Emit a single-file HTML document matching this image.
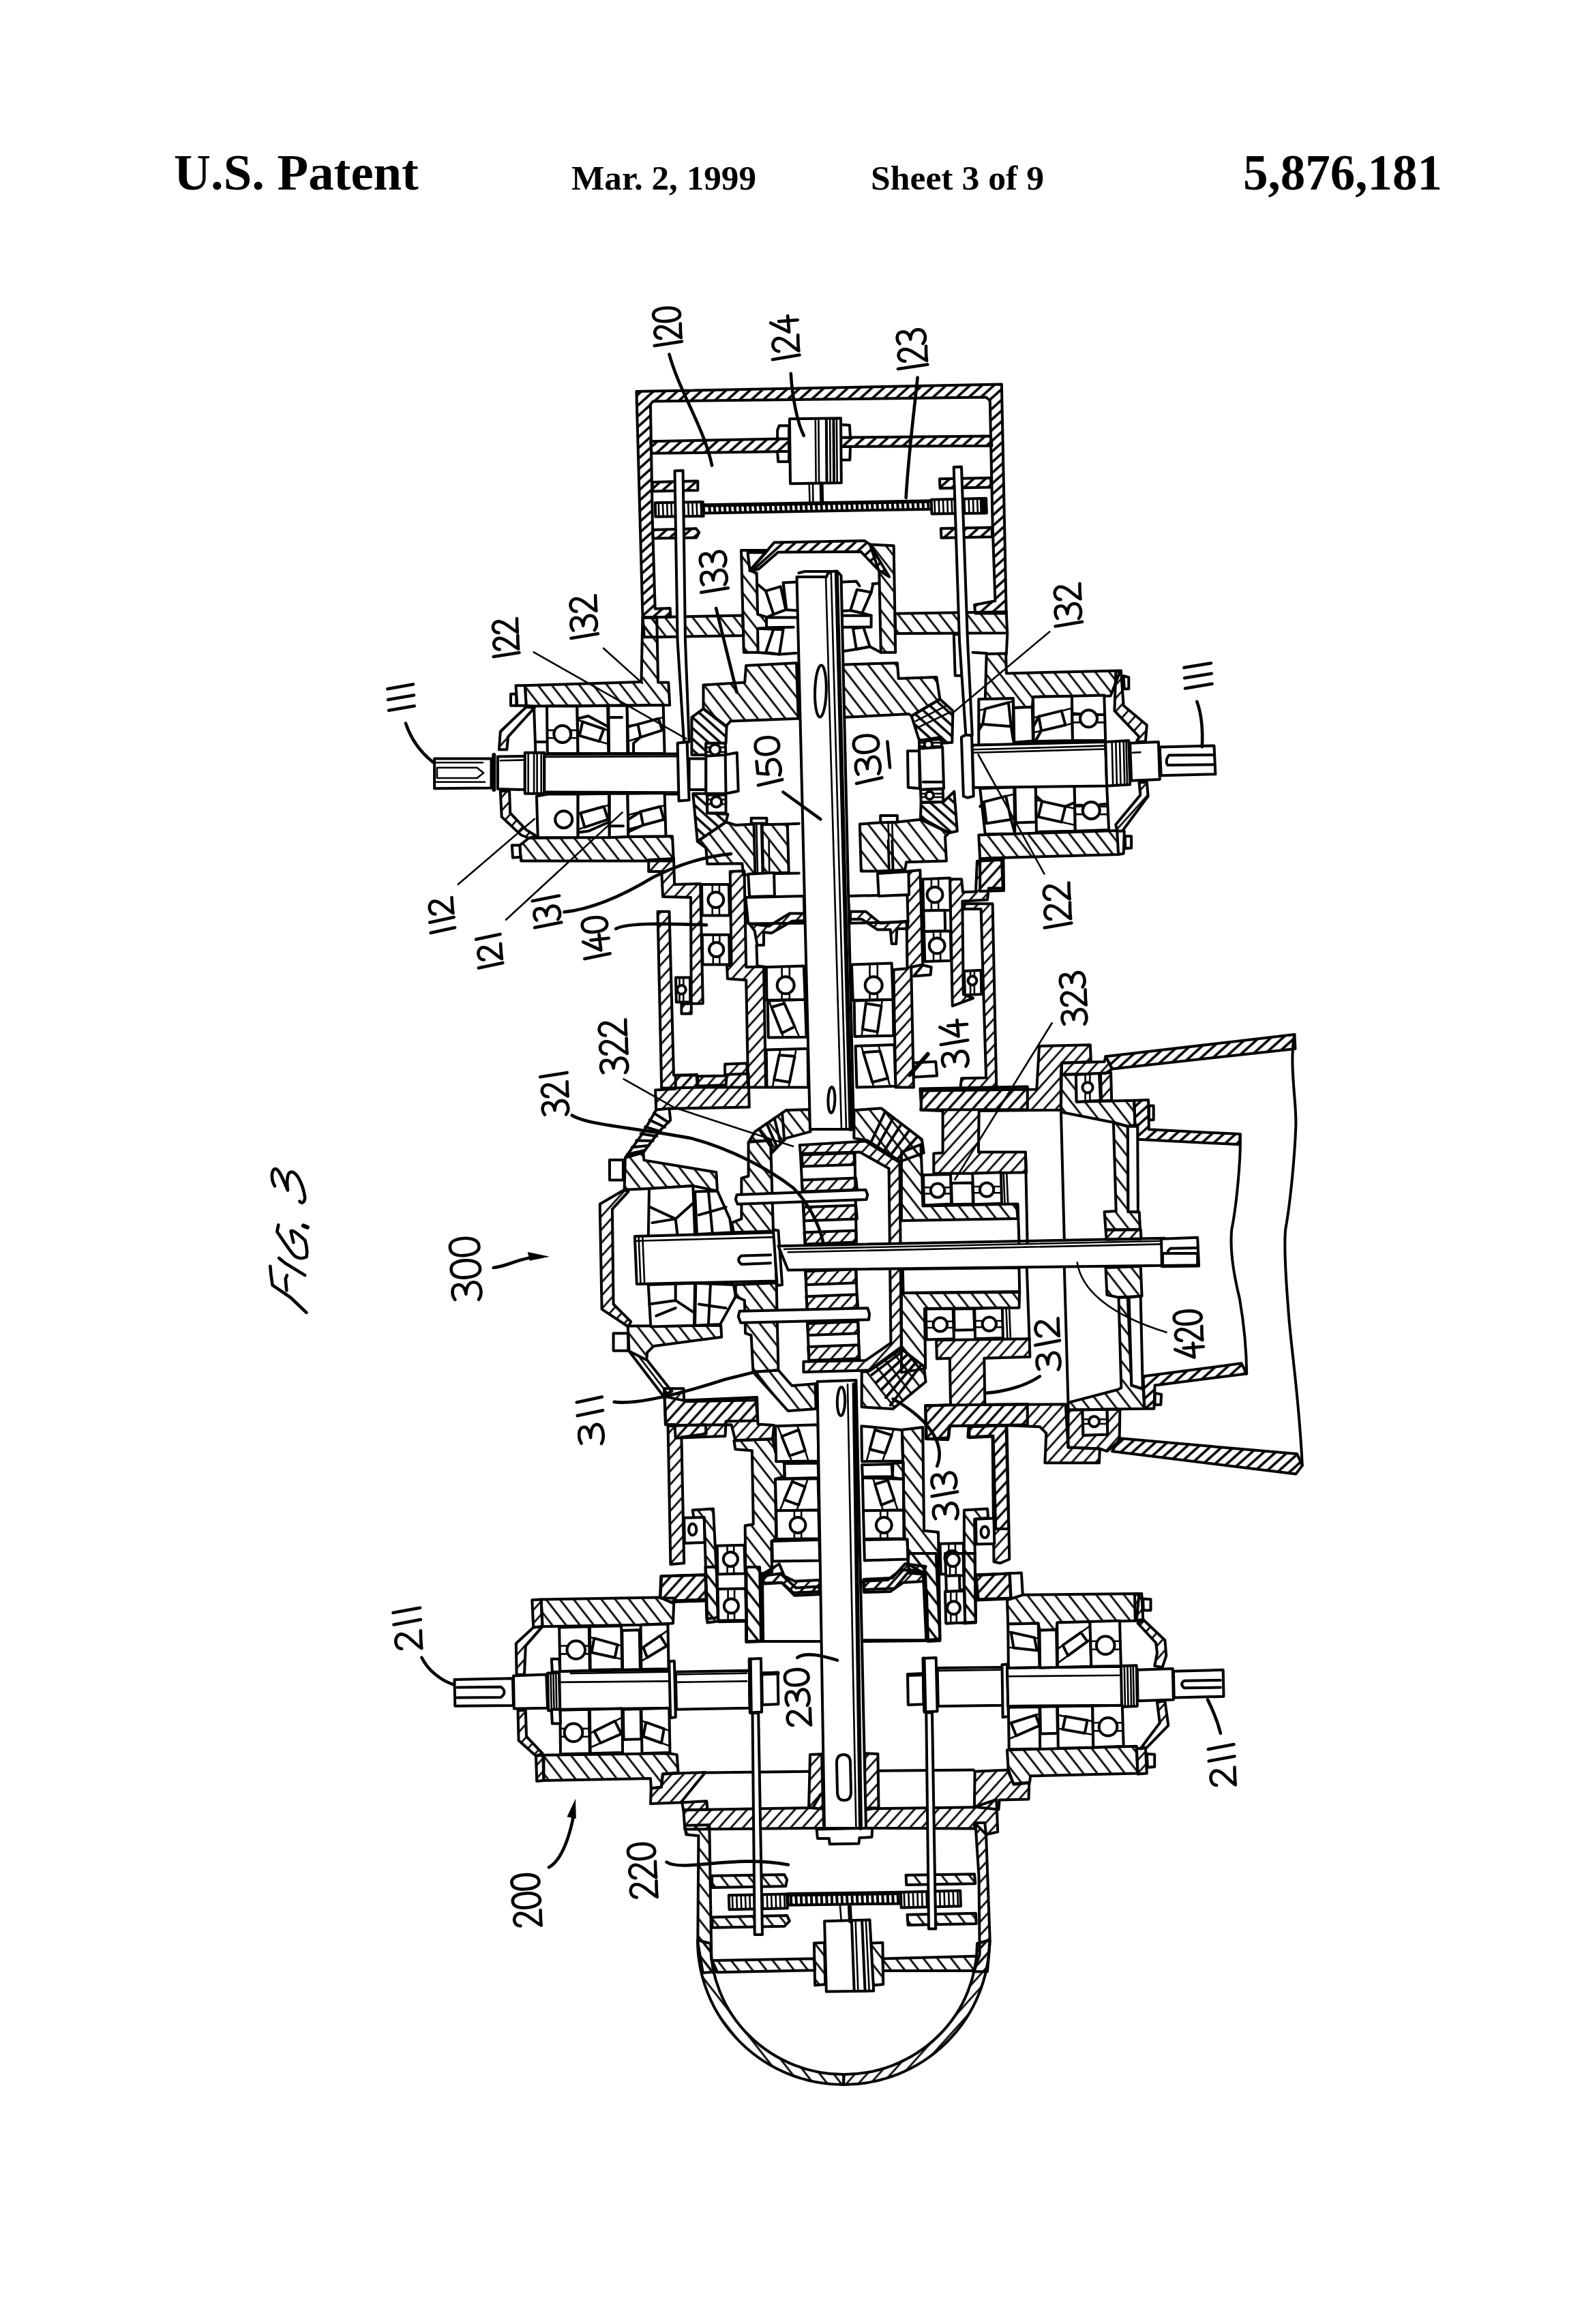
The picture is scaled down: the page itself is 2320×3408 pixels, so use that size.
<!DOCTYPE html>
<html><head><meta charset="utf-8"><title>US 5,876,181 Sheet 3</title>
<style>
html,body{margin:0;padding:0;background:#fff;}
svg{display:block;}
text{font-family:"Liberation Serif",serif;font-weight:bold;fill:#000;}
.l{fill:none;stroke:#000;stroke-width:4;stroke-linecap:round;stroke-linejoin:round;}
.t{fill:none;stroke:#000;stroke-width:2.6;stroke-linecap:round;stroke-linejoin:round;}
.h{fill:none;stroke:#000;stroke-width:6;stroke-linecap:round;stroke-linejoin:round;}
.n{fill:none;stroke:#000;stroke-width:4.6;stroke-linecap:round;stroke-linejoin:round;}
</style></head>
<body>
<svg width="2320" height="3408" viewBox="0 0 2320 3408">
<defs>
<pattern id="ha" width="11.7" height="20" patternUnits="userSpaceOnUse" patternTransform="rotate(48)"><line x1="3" y1="-1" x2="3" y2="21" stroke="#000" stroke-width="3.6"/></pattern>
<pattern id="hb" width="16" height="20" patternUnits="userSpaceOnUse" patternTransform="rotate(-38)"><line x1="3" y1="-1" x2="3" y2="21" stroke="#000" stroke-width="2.8"/></pattern>
<pattern id="hc" width="13" height="20" patternUnits="userSpaceOnUse" patternTransform="rotate(42)"><line x1="3" y1="-1" x2="3" y2="21" stroke="#000" stroke-width="2.7"/></pattern>
<pattern id="hd" width="11.7" height="20" patternUnits="userSpaceOnUse" patternTransform="rotate(-48)"><line x1="3" y1="-1" x2="3" y2="21" stroke="#000" stroke-width="3.6"/></pattern>
</defs>
<rect width="2320" height="3408" fill="#fff"/>
<!--HEADER-->
<text x="255" y="278" font-size="75" textLength="359" lengthAdjust="spacingAndGlyphs">U.S. Patent</text>
<text x="838" y="278" font-size="51.5" textLength="271" lengthAdjust="spacingAndGlyphs">Mar. 2, 1999</text>
<text x="1277" y="278" font-size="51.5" textLength="254" lengthAdjust="spacingAndGlyphs">Sheet 3 of 9</text>
<text x="1823" y="278" font-size="75" textLength="292" lengthAdjust="spacingAndGlyphs">5,876,181</text>
<!-- 01_topbox.txt -->
<polygon class="l" style="fill:url(#ha)" points="942.5,904.9 933.4,574.1 1468.9,563.5 1475.7,899.5 1430.2,899.5 1429.1,887 1459.4,881.3 1455.6,767.6 1451.8,587.4 1446.1,582.5 957.6,588.5 953.9,593.1 956.9,767.6 960.7,892.7 982.7,892 983.4,904.9"/>
<polygon class="l" style="fill:url(#ha)" points="954.2,647.3 1157.1,643.2 1157.1,662.1 955.4,664.8"/>
<polygon class="l" style="fill:url(#ha)" points="1233,641.6 1453,639.4 1454.5,653.8 1233,654.9"/>
<polygon class="l" style="fill:#fff" points="1142.7,624.2 1157.1,624.2 1157.1,643.2 1140.1,643.5 1140.1,631"/>
<polygon class="l" style="fill:#fff" points="1140.1,662.1 1157.1,662.1 1157.1,676.9 1141.2,676.9"/>
<polygon class="l" style="fill:#fff" points="1233,622.7 1245.9,623.4 1247,641.6 1233,641.6"/>
<polygon class="l" style="fill:#fff" points="1233,654.9 1247,654.9 1246.3,674.6 1233,674.6"/>
<polygon class="l" style="fill:#fff" points="1157.9,614.3 1233,613.2 1233.8,708 1159,709.2"/>
<polyline class="t" points="1195.8,614.3 1196.6,708"/>
<polyline class="t" points="1200.4,614.3 1201.1,708"/>
<polyline class="l" points="1211.8,614.3 1212.5,708"/>
<polyline class="t" points="1217.1,614.3 1217.8,708"/>
<polyline class="l" points="1222.4,614.3 1223.1,708"/>
<polyline class="t" points="1226.9,614.3 1227.7,708"/>
<polyline class="t" points="1186.7,709.2 1187.5,735.3"/>
<polyline class="t" points="1192,709.2 1192.4,735.3"/>
<polyline class="h" points="1204.6,709.2 1205.3,737.2"/>
<polygon class="l" style="fill:#fff" points="960.7,737.2 1030.8,736.1 1031.6,756.9 961.4,757.7"/>
<path class="t" d="M965.7,737.2L966.4,757.7M971.9,737.1L972.6,757.6M978.1,737L978.9,757.5M984.3,736.9L985.1,757.5M990.5,736.8L991.3,757.4M996.7,736.6L997.5,757.3M1002.9,736.5L1003.7,757.3M1009.1,736.4L1009.9,757.2M1015.3,736.3L1016.1,757.1M1021.5,736.2L1022.3,757M1027.7,736.1L1028.5,757"/>
<polygon class="l" style="fill:#fff" points="1031.6,740.3 1365.7,734.2 1366.5,746.7 1032.4,752.4"/>
<path class="l" d="M1040.3,740.9L1041,751.6M1047.7,740.8L1048.5,751.4M1055.2,740.7L1055.9,751.3M1062.6,740.5L1063.4,751.2M1070.1,740.4L1070.8,751M1077.5,740.3L1078.3,750.9M1085,740.1L1085.8,750.8M1092.5,740L1093.2,750.7M1099.9,739.8L1100.7,750.5M1107.4,739.7L1108.1,750.4M1114.8,739.6L1115.6,750.3M1122.3,739.4L1123,750.1M1129.7,739.3L1130.5,750M1137.2,739.1L1138,749.9M1144.6,739L1145.4,749.8M1152.1,738.9L1152.9,749.6M1159.6,738.7L1160.3,749.5M1167,738.6L1167.8,749.4M1174.5,738.5L1175.2,749.2M1181.9,738.3L1182.7,749.1M1189.4,738.2L1190.1,749M1196.8,738L1197.6,748.9M1204.3,737.9L1205.1,748.7M1211.8,737.8L1212.5,748.6M1219.2,737.6L1220,748.5M1226.7,737.5L1227.4,748.3M1234.1,737.4L1234.9,748.2M1241.6,737.2L1242.3,748.1M1249,737.1L1249.8,747.9M1256.5,736.9L1257.2,747.8M1263.9,736.8L1264.7,747.7M1271.4,736.7L1272.2,747.6M1278.9,736.5L1279.6,747.4M1286.3,736.4L1287.1,747.3M1293.8,736.3L1294.5,747.2M1301.2,736.1L1302,747M1308.7,736L1309.4,746.9M1316.1,735.8L1316.9,746.8M1323.6,735.7L1324.4,746.7M1331,735.6L1331.8,746.5M1338.5,735.4L1339.3,746.4M1346,735.3L1346.7,746.3M1353.4,735.1L1354.2,746.1M1360.9,735L1361.6,746"/>
<polyline class="l" points="1033.5,741.8 1365,735.7"/>
<polygon class="l" style="fill:#fff" points="1365.7,732.7 1446.1,730.8 1446.9,752.4 1366.5,753.5"/>
<path class="t" d="M1370.4,732.6L1371.2,753.5M1376.7,732.4L1377.4,753.4M1382.9,732.2L1383.7,753.3M1389.2,732.1L1390,753.2M1395.5,731.9L1396.3,753.1M1401.8,731.7L1402.5,753M1408,731.5L1408.8,752.9M1414.3,731.4L1415.1,752.8M1420.6,731.2L1421.4,752.6M1426.9,731L1427.6,752.5M1433.1,730.9L1433.9,752.4"/>
<polygon fill="#000" stroke="none" points="1436.7,730.8 1446.1,730.8 1446.9,752.4 1437.4,752.4"/>
<polygon class="l" style="fill:url(#ha)" points="956.9,706.9 1023.3,705.4 1023.3,719 956.9,720.5"/>
<polygon class="l" style="fill:url(#ha)" points="956.9,777 1020.6,775.1 1025.2,780.8 1021.4,788.4 957.6,789.6"/>
<polygon class="l" style="fill:url(#ha)" points="1377.9,702.3 1453,700.8 1453.7,714.5 1378.6,716"/>
<polygon class="l" style="fill:url(#ha)" points="1379.8,775.1 1454.5,773.6 1455.2,787.3 1380.5,788.8"/>
<!-- 02_cup.txt -->
<polygon class="l" style="fill:url(#hb)" points="942.5,905.5 1088.9,902.5 1090.4,932.1 960.7,934.3 944.8,934.3"/>
<polygon class="l" style="fill:url(#hb)" points="1312.6,899.8 1475.7,897.2 1477.2,928.3 1313.4,929"/>
<polygon class="l" style="fill:url(#hb)" points="1087,807 1125.9,807 1099.7,836.8 1109.7,840.2 1111.1,900.8 1124,905 1124,920.8 1111.1,921.7 1111.6,956.8 1090.8,956.8"/>
<polygon class="l" style="fill:#fff" points="1096.5,810.2 1123,810.2 1099.7,836.4"/>
<polygon class="l" style="fill:url(#ha)" points="1099.7,836.8 1135.3,795.6 1268.1,793.1 1275.7,798.4 1304.1,845.9 1288.9,836.4 1262.4,808.9 1141,809.8 1112.6,834.5"/>
<polygon class="l" style="fill:url(#hb)" points="1275.7,798.4 1310.7,800.3 1313.2,956.8 1291.8,956.8 1289.3,838.3"/>
<polyline class="t" points="1275.7,798.4 1304.1,845.9"/>
<polyline class="l" points="1171.4,840.2 1180.8,837.9 1219.7,837.9"/>
<polyline class="l" points="1148.6,854.4 1167.6,853.4"/>
<polyline class="l" points="1234.9,853.4 1255.8,852.5 1260.5,859.1"/>
<polygon class="l" style="fill:#fff" points="1123,866.7 1144.8,860.1 1152.4,894.2 1134.4,900.8"/>
<polygon class="l" style="fill:#fff" points="1256.7,864.8 1277.6,868.6 1264.3,899 1247.2,895.2"/>
<polyline class="l" points="1111.6,857.2 1123,866.7"/>
<polyline class="l" points="1134.4,900.8 1124.9,905"/>
<polyline class="l" points="1148.6,854.4 1153.4,894.2 1168.5,895.2"/>
<polyline class="l" points="1279.5,856.3 1289.3,855.3"/>
<polyline class="l" points="1277.6,868.6 1280.4,856.3"/>
<polyline class="l" points="1264.3,899 1277.6,902.7"/>
<polyline class="l" points="1247.2,895.2 1234.9,896.1"/>
<polyline class="l" points="1124,905.6 1168.5,905.6"/>
<polyline class="l" points="1124,920.2 1163.8,919.8"/>
<polyline class="l" points="1236.8,902.7 1277.6,902.7 1277.6,919.4 1236.8,919.8"/>
<polygon class="l" style="fill:#fff" points="1134.4,922.7 1148.6,923.2 1142.9,959.6 1123,956.8"/>
<polygon class="l" style="fill:#fff" points="1251,921.7 1266.2,919.8 1275.7,948.3 1255.8,952"/>
<polyline class="l" points="1111.6,956.8 1142.9,959.6 1167.6,957.7"/>
<polyline class="l" points="1236.8,954.9 1255.8,952 1275.7,948.3 1291.8,956.8"/>
<polyline class="l" points="1112.6,921.7 1134.4,922.7"/>
<!-- 03_left111.txt -->
<polygon class="l" style="fill:url(#hb)" points="942.4,905.9 963.2,905.9 965.1,1000.7 980.3,1000.7 982.2,1034.1 783.1,1035.6 771.7,1034.8 769.8,1005.2 940.5,999.9"/>
<polygon class="l" style="fill:#fff" points="749,1017.7 757.3,1017.7 757.3,1034.8 749,1034.8"/>
<polygon class="l" style="fill:#fff" points="756.5,1005.2 769.8,1005.2 771.7,1034.8 758.4,1034.8"/>
<polygon class="l" style="fill:url(#hc)" points="771.7,1036.7 733.8,1072.7 731.9,1099.3 743.3,1099.3 745.2,1080.3 783.8,1037.9"/>
<polygon class="l" style="fill:url(#hb)" points="775.5,1229 986,1226.3 987.9,1262.4 764.1,1262.4 762.2,1239.6"/>
<polygon class="l" style="fill:#fff" points="750.8,1239.6 762.2,1239.6 763.4,1256.7 752,1257.8"/>
<polygon class="l" style="fill:url(#hc)" points="733.8,1160 735.7,1197.9 764.1,1224.5 775.5,1229 786.9,1226.3 771.7,1216.9 748.2,1192.2 747.1,1160"/>
<polygon class="l" style="fill:#fff" points="637.1,1112.6 720.5,1112.6 720.5,1155.4 637.1,1156.2"/>
<polyline class="t" points="637.1,1118.3 708,1118.3"/>
<polyline class="t" points="640.9,1125.8 699.6,1125.8 709.1,1133.4 699.6,1141 640.9,1141 640.9,1125.8"/>
<polyline class="t" points="637.1,1146.7 711,1146.7"/>
<polyline class="h" points="724.3,1106.9 724.3,1158.1"/>
<polygon class="l" style="fill:#fff" points="730,1109.5 769.8,1108.8 769.8,1158.1 730,1156.9"/>
<polyline class="t" points="733.8,1115.2 767.9,1114.5"/>
<polygon class="l" style="fill:#fff" points="769.8,1103.8 798.3,1103.8 798.3,1163.8 769.8,1163.8"/>
<polyline class="t" points="774.7,1103.8 774.7,1163.8"/>
<polyline class="t" points="783.1,1103.8 783.1,1163.8"/>
<polyline class="t" points="787.6,1103.8 787.6,1163.8"/>
<polyline class="t" points="793.7,1103.8 793.7,1163.8"/>
<polygon class="l" style="fill:#fff" points="798.3,1106.1 995.5,1105.4 996.2,1164.5 798.3,1163.8"/>
<polyline class="t" points="798.3,1109.9 995.5,1109.2"/>
<polyline class="t" points="798.3,1160.7 995.5,1161.5"/>
<polygon class="l" style="fill:#fff" points="802,1035.6 846.4,1035.6 847.6,1105 802.8,1105"/>
<path class="t" d="M802.4,1070.9L813.5,1070.9M836.1,1070.9L847,1070.9M802.6,1082.2L813.5,1082.2M836.1,1082.2L847.2,1082.2"/>
<circle class="l" style="fill:#fff" cx="824.8" cy="1076.5" r="12.5"/>
<polygon class="l" style="fill:#fff" points="846.4,1035.6 891.2,1034.8 892.3,1105 847.6,1105"/>
<polygon class="l" style="fill:#fff" points="854.4,1058.3 885.5,1069 878.7,1087.2 849.8,1078.8"/>
<path class="t" d="M846.8,1055.7L854.4,1058.3M885.5,1069L891.8,1071.1M892.1,1091L878.7,1087.2M849.8,1078.8L847.1,1078"/>
<polyline class="l" points="847.6,1053.8 862.7,1050 891.2,1065.2"/>
<polygon class="l" style="fill:#fff" points="892.3,1034.8 919.6,1034.8 920.4,1105 893.1,1105"/>
<polyline class="l" points="895,1051.9 912,1051.9"/>
<polygon class="l" style="fill:#fff" points="919.6,1034.8 972.7,1034.1 974.6,1105 921.5,1105"/>
<polygon class="l" style="fill:#fff" points="935.5,1062.1 965.9,1053.8 971.2,1070.8 939.3,1081.1"/>
<path class="t" d="M920.5,1066.3L935.5,1062.1M965.9,1053.8L973.2,1051.8M973.7,1070.1L971.2,1070.8M939.3,1081.1L921,1087"/>
<polyline class="l" points="921.5,1065.2 935.5,1062.1"/>
<polyline class="l" points="939.3,1081.1 929.1,1089.8 929.1,1105"/>
<polyline class="l" points="783.1,1037.9 785.4,1103.8"/>
<polyline class="l" points="786.9,1087.9 802,1087.9"/>
<polygon class="l" style="fill:#fff" points="803.9,1164.5 847.6,1164.5 847.6,1228.2 788.8,1228.2 786.9,1167.6"/>
<circle class="l" style="fill:#fff" cx="826.7" cy="1201.7" r="12.5"/>
<polygon class="l" style="fill:#fff" points="847.6,1164.5 893.1,1163.8 893.8,1228.2 847.6,1228.2"/>
<polygon class="l" style="fill:#fff" points="851.4,1192.2 885.5,1182.7 891.6,1201.7 857.4,1213.1"/>
<path class="t" d="M847.6,1193.3L851.4,1192.2M885.5,1182.7L893.3,1180.6M893.5,1201L891.6,1201.7M857.4,1213.1L847.6,1216.4"/>
<polyline class="l" points="847.6,1220.7 862.7,1218.8 893.1,1205.5"/>
<polygon class="l" style="fill:#fff" points="893.8,1163.8 920.4,1163.8 921.5,1227.1 893.8,1228.2"/>
<polyline class="l" points="895,1211.2 913.9,1211.2"/>
<polygon class="l" style="fill:#fff" points="920.4,1163.8 974.6,1163 976.5,1226.3 921.5,1227.1"/>
<polygon class="l" style="fill:#fff" points="939.3,1190.3 968.2,1182.7 973.5,1201.7 943.1,1210"/>
<path class="t" d="M920.9,1195.2L939.3,1190.3M968.2,1182.7L975.1,1180.9M975.8,1201.1L973.5,1201.7M943.1,1210L921.3,1216"/>
<polyline class="l" points="921.5,1201.7 939.3,1190.3"/>
<polyline class="l" points="943.1,1210 923.4,1218.8"/>
<polygon class="l" style="fill:#fff" points="993.6,1089.8 1007.6,1087.9 1010.6,1173.2 995.5,1174.4"/>
<polygon class="l" style="fill:#fff" points="1010.6,1112.6 1035.3,1112.6 1035.3,1158.1 1010.6,1158.1"/>
<polygon class="l" style="fill:url(#hd)" points="1014.4,1051.9 1031.5,1039.4 1065.6,1065.2 1064.5,1089.8 1035.3,1091.7 1035.3,1106.9 1014.4,1106.9"/>
<polygon class="l" style="fill:url(#hd)" points="1016.3,1163.8 1037.2,1163.8 1037.2,1192.2 1067.5,1194.1 1064.5,1205.5 1022.8,1233.9"/>
<polygon class="l" style="fill:#fff" points="1035.3,1089.8 1063.7,1089.8 1064.5,1108.8 1035.3,1108.8"/>
<path class="t" d="M1035.3,1095.9L1041.7,1095.9M1055.4,1095.9L1064,1095.9M1035.3,1102.7L1041.7,1102.7M1055.4,1102.7L1064.3,1102.7"/>
<circle class="l" style="fill:#fff" cx="1048.6" cy="1099.3" r="7.6"/>
<polygon class="l" style="fill:#fff" points="1037.2,1165.7 1064.5,1165.7 1064.5,1192.2 1037.2,1192.2"/>
<path class="t" d="M1037.2,1172.5L1043.6,1172.5M1057.3,1172.5L1064.5,1172.5M1037.2,1179.3L1043.6,1179.3M1057.3,1179.3L1064.5,1179.3"/>
<circle class="l" style="fill:#fff" cx="1050.5" cy="1175.9" r="7.6"/>
<polygon class="l" style="fill:#fff" points="1035.3,1108.8 1063.7,1106.9 1080.8,1103.8 1082.7,1160 1064.5,1163.8 1035.3,1163.8"/>
<polyline class="l" points="1063.7,1106.9 1064.5,1163.8"/>
<polygon class="l" style="fill:url(#hb)" points="1031.5,1004.5 1092.2,1000.7 1094.1,976 1168,972.2 1170.7,1053.8 1071.3,1057.6 1064.5,1065.2 1031.5,1039.4"/>
<polygon class="l" style="fill:url(#hb)" points="1022.8,1233.9 1064.5,1205.5 1078.9,1210 1105.5,1208.5 1107.4,1281.3 1090.3,1283.2 1088.4,1266.2 1037.2,1266.9 1035.3,1243.4"/>
<polygon class="l" style="fill:url(#hb)" points="1117.6,1209.3 1154.8,1208.5 1156.7,1279.4 1119.1,1281.3"/>
<polygon class="l" style="fill:#fff" points="1101.7,1199.8 1124.4,1199.8 1124.4,1207.4 1101.7,1207.4"/>
<polyline class="t" points="1109.3,1207.4 1111.5,1302.2"/>
<polyline class="t" points="1116.1,1207.4 1118.4,1302.2"/>
<polyline class="l" points="1119.1,1281.3 1171.8,1280.6"/>
<polyline class="l" points="1154.8,1208.5 1171.8,1207.8"/>
<!-- 04_right111.txt -->
<polygon class="l" style="fill:url(#hb)" points="1224.8,974.9 1315.9,972.2 1317.7,995 1373.5,993.1 1378.4,1025.3 1336.7,1050 1332.9,1047 1224.8,1052.6"/>
<polygon class="l" style="fill:url(#hd)" points="1336.7,1050 1378.4,1025.3 1397.4,1042.4 1396.3,1088.7 1382.2,1089.8 1380.3,1081.1 1348.1,1086"/>
<polyline class="t" points="1342.4,1057.6 1387.9,1034.8"/>
<polyline class="t" points="1345.4,1067.1 1393.6,1044.3"/>
<polygon class="l" style="fill:#fff" points="1348.1,1086 1380.3,1084.1 1381.1,1096.3 1348.1,1097.8"/>
<path class="t" d="M1348.1,1089.1L1356.2,1089.1M1366.5,1089.1L1380.6,1089.1M1348.1,1094.3L1356.2,1094.3M1366.5,1094.3L1381,1094.3"/>
<circle class="l" style="fill:#fff" cx="1361.4" cy="1091.7" r="5.7"/>
<polygon class="l" style="fill:#fff" points="1331,1101.2 1348.1,1101.2 1348.8,1156.2 1331.8,1154.7"/>
<polygon class="l" style="fill:#fff" points="1348.1,1097.8 1382.2,1095.5 1384.1,1156.2 1350,1158.1"/>
<polyline class="l" points="1353.8,1146.7 1382.2,1146.7"/>
<polygon class="l" style="fill:#fff" points="1350,1158.1 1382.6,1156.9 1383.4,1175.9 1350.7,1176.7"/>
<path class="t" d="M1350.2,1163.9L1358.1,1163.9M1368.4,1163.9L1382.9,1163.9M1350.4,1169L1358.1,1169M1368.4,1169L1383.1,1169"/>
<circle class="l" style="fill:#fff" cx="1363.3" cy="1166.4" r="5.7"/>
<polygon class="l" style="fill:url(#hd)" points="1350.7,1176.7 1383.4,1175.9 1399.3,1160.7 1403.8,1218.8 1391.7,1221.4 1350,1198.7"/>
<polygon class="l" style="fill:url(#hb)" points="1260.9,1208.5 1291.2,1206.2 1315.9,1205.5 1350,1201.7 1391.7,1221.4 1386,1227.1 1387.9,1262.4 1329.1,1264.3 1327.2,1275.7 1289.3,1277.5 1262.8,1277.5"/>
<polygon class="l" style="fill:#fff" points="1291.2,1196 1315.9,1196 1315.9,1205.5 1291.2,1206.2"/>
<polyline class="t" points="1302.6,1206.2 1305.2,1311.7"/>
<polyline class="t" points="1308.3,1206.2 1311.3,1311.7"/>
<polygon class="l" style="fill:url(#hb)" points="1446.7,959 1475.1,958.2 1475.9,987.4 1642.8,983.6 1628.7,1020.4 1515,1021.9 1513.8,1036.7 1486.5,1037.9 1485.8,1024.2 1444.8,1025.3"/>
<polygon class="l" style="fill:url(#hb)" points="1435.3,1224.5 1638.2,1218 1640.1,1252.9 1471.4,1257.8 1437.2,1259.3"/>
<polygon class="l" style="fill:url(#hc)" points="1437.2,1259.3 1471.4,1257.8 1472.1,1306 1437.2,1307.1"/>
<polygon class="l" style="fill:#fff" points="1435.3,1025.3 1485.8,1024.2 1486.5,1091.7 1435.3,1092.5"/>
<polygon class="l" style="fill:#fff" points="1444.8,1039.4 1478.9,1030.3 1482.7,1065.2 1441,1062.1"/>
<path class="t" d="M1435.3,1041.9L1444.8,1039.4M1478.9,1030.3L1485.8,1028.4M1486.2,1065.4L1482.7,1065.2M1441,1062.1L1435.3,1061.7"/>
<polyline class="l" points="1441,1062.1 1435.3,1070.8"/>
<polyline class="l" points="1482.7,1065.2 1485.8,1084.1"/>
<polygon class="l" style="fill:#fff" points="1486.5,1037.9 1513.8,1036.7 1515,1086.4 1487.3,1088.7"/>
<polygon class="l" style="fill:#fff" points="1515,1021.9 1571.9,1020.8 1573,1086 1515.7,1087.2"/>
<polygon class="l" style="fill:#fff" points="1523.3,1050.7 1556.7,1042.4 1562.4,1063.3 1527.1,1071.6"/>
<path class="t" d="M1515.3,1052.7L1523.3,1050.7M1556.7,1042.4L1572.2,1038.5M1572.6,1060.9L1562.4,1063.3M1527.1,1071.6L1515.6,1074.3"/>
<polyline class="l" points="1515.7,1065.2 1523.3,1050.7"/>
<polyline class="l" points="1527.1,1071.6 1518.8,1086"/>
<polygon class="l" style="fill:#fff" points="1571.9,1020.8 1619.3,1019.6 1621.2,1086 1573,1086"/>
<path class="t" d="M1572.3,1048.1L1585.2,1048.1M1607.8,1048.1L1620.1,1048.1M1572.5,1059.4L1585.2,1059.4M1607.8,1059.4L1620.4,1059.4"/>
<circle class="l" style="fill:#fff" cx="1596.5" cy="1053.8" r="12.5"/>
<polyline class="l" points="1573,1046.2 1583.2,1047"/>
<polyline class="l" points="1609.8,1048.1 1620,1048.1"/>
<polygon class="l" style="fill:#fff" points="1437.2,1156.2 1487.3,1154.3 1488.4,1222.6 1444.8,1223.3"/>
<polygon class="l" style="fill:#fff" points="1442.9,1175.9 1475.1,1167.6 1482.7,1201.7 1446.7,1207.4"/>
<path class="t" d="M1439.5,1176.8L1442.9,1175.9M1475.1,1167.6L1487.5,1164.4M1488.1,1200.9L1482.7,1201.7M1446.7,1207.4L1443.1,1208"/>
<polyline class="l" points="1437.2,1182.7 1442.9,1175.9"/>
<polyline class="l" points="1482.7,1201.7 1488.4,1222.6"/>
<polygon class="l" style="fill:#fff" points="1488.4,1154.3 1518.8,1153.1 1519.9,1205.5 1489.6,1206.6"/>
<polygon class="l" style="fill:#fff" points="1518.8,1153.1 1575.7,1152.4 1576.8,1218.8 1519.9,1219.9"/>
<polygon class="l" style="fill:#fff" points="1528.2,1175.1 1562.4,1182.7 1556.7,1205.5 1522.6,1197.9"/>
<path class="t" d="M1519.1,1173.1L1528.2,1175.1M1562.4,1182.7L1576.2,1185.8M1576.6,1209.9L1556.7,1205.5M1522.6,1197.9L1519.5,1197.2"/>
<polyline class="l" points="1519.9,1167.6 1528.2,1175.1"/>
<polyline class="l" points="1562.4,1182.7 1575.7,1177"/>
<polygon class="l" style="fill:#fff" points="1575.7,1152.4 1623.1,1151.6 1626.1,1216.9 1576.8,1218.8"/>
<path class="t" d="M1576.2,1182.8L1589,1182.8M1611.6,1182.8L1624.5,1182.8M1576.4,1194.1L1589,1194.1M1611.6,1194.1L1625,1194.1"/>
<circle class="l" style="fill:#fff" cx="1600.3" cy="1188.4" r="12.5"/>
<polyline class="l" points="1576.8,1180.8 1587,1180.8"/>
<polyline class="l" points="1613.6,1179.7 1623.8,1178.9"/>
<polygon class="l" style="fill:#fff" points="1409.9,1081.1 1418.3,1076.5 1425.1,1079.6 1427.7,1167.6 1419,1169.8 1412.9,1167.6"/>
<polygon class="l" style="fill:#fff" points="1425.8,1092.8 1621.2,1087.9 1623.1,1152.4 1427.7,1155"/>
<polyline class="t" points="1425.8,1099.3 1621.2,1093.6"/>
<polyline class="t" points="1427.7,1103.8 1619.3,1098.5"/>
<polygon class="l" style="fill:#fff" points="1621.2,1087.9 1655.3,1086 1657.2,1150.5 1623.1,1152.4"/>
<polyline class="t" points="1630.6,1087.9 1632.2,1151.6"/>
<polyline class="t" points="1636.3,1087.5 1637.9,1151.6"/>
<polyline class="t" points="1642,1087.2 1643.5,1151.3"/>
<polyline class="t" points="1647.7,1086.8 1649.2,1150.9"/>
<polyline class="t" points="1651.5,1086.4 1653,1150.9"/>
<polygon class="l" style="fill:#fff" points="1657.2,1089.8 1698.9,1087.9 1700.8,1142.9 1659.1,1144.8"/>
<polyline class="t" points="1661,1103.8 1672.4,1103.1"/>
<polygon class="l" style="fill:#fff" points="1700.8,1095.5 1780.5,1093.6 1782.4,1135.3 1702.7,1137.2"/>
<path class="l" d="M1778.6,1106.9 L1714.1,1107.6 Q1708.4,1115.2 1712.2,1122 L1778.6,1121.3"/>
<polygon class="l" style="fill:url(#hc)" points="1636.3,985.5 1643.9,983.6 1647.7,1034.8 1681.8,1063.3 1679.9,1087.2 1666.7,1087.9 1670.5,1080.3 1634.4,1042.4"/>
<polygon class="l" style="fill:#fff" points="1647.7,991.2 1655.3,993.1 1655.3,1010.2 1648.8,1010.2"/>
<polygon class="l" style="fill:url(#hc)" points="1670.5,1147.8 1681.8,1146.7 1683.7,1167.6 1645.8,1218.8 1638.2,1218.8 1636.3,1209.3 1672.4,1165.7"/>
<polygon class="l" style="fill:#fff" points="1649.6,1226.3 1659.1,1226.3 1659.1,1243.4 1650.4,1244.2"/>
<polyline class="l" points="1640.1,1252.9 1647.7,1251.8 1648.8,1218.8"/>
<polyline class="l" points="1477.3,929 1475.8,959.4"/>
<polyline class="l" points="1426.5,956.7 1447,957.9"/>
<polygon class="l" style="fill:#fff" points="1398.8,930.2 1408.3,930.2 1410.2,990.8 1400.7,990.8"/>
<!-- 05_neck_upper.txt -->
<polygon class="l" style="fill:url(#hc)" points="964.5,1336.7 981.5,1336.7 988,1576.8 1021.4,1576.8 1023.3,1594.6 970.2,1595.8"/>
<polygon class="l" style="fill:url(#hc)" points="1413.9,1325.3 1455.6,1325.3 1461.3,1596.5 1408.2,1596.5 1410.1,1581.3 1446.1,1580.6 1438.6,1332.9 1413.9,1332.9"/>
<polygon class="l" style="fill:url(#hc)" points="951.2,1260.9 988,1259 989.1,1296.9 1027.1,1296.1 1030.8,1471.4 999.4,1472.1 999.4,1486.5 1013.8,1486.5 1013,1315.9 972.1,1315.1 970.2,1277.9 951.2,1277.9"/>
<polygon class="l" style="fill:url(#hc)" points="1393,1289.3 1410.1,1289.3 1412,1308.3 1431,1307.5 1432.9,1262.8 1468.9,1260.9 1470.8,1302.6 1449.9,1302.6 1448,1319.6 1411.3,1321.5 1412.8,1458.1 1427.2,1463.8 1396.8,1475.1"/>
<polygon class="l" style="fill:url(#hc)" points="1063.1,1560.5 1095.3,1559.3 1097.2,1594.6 1023.3,1594.6 1023.3,1578.3 1063.1,1577.5"/>
<polygon class="l" style="fill:url(#hc)" points="1070.7,1277.9 1091.5,1277.2 1094.2,1418.3 1120,1417.5 1123,1594.6 1097.2,1594.6 1094.2,1437.2 1066.9,1435.3 1066.1,1416.4 1072.6,1415.2"/>
<polygon class="l" style="fill:url(#hc)" points="1328.6,1277.9 1349.4,1276 1353.2,1414.5 1336.2,1418.3 1339.9,1594.6 1313.4,1594.6 1310.4,1422 1330.5,1420.2"/>
<polygon class="l" style="fill:#fff" points="1339.9,1431.5 1364.6,1429.6 1365.7,1418.3 1353.2,1415.2"/>
<polygon class="l" style="fill:#fff" points="1339.9,1558.6 1372.2,1556.7 1374.1,1577.5 1339.9,1579.4"/>
<polygon class="l" style="fill:#fff" points="1029,1296.9 1068.8,1296.9 1069.9,1342.4 1029.7,1342.4"/>
<path class="t" d="M1044.7,1296.9L1044.7,1309.4M1044.7,1329.9L1044.7,1342.4M1054.9,1296.9L1054.9,1309.4M1054.9,1329.9L1054.9,1342.4"/>
<circle class="l" style="fill:#fff" cx="1049.8" cy="1319.6" r="11.4"/>
<polygon class="l" style="fill:#fff" points="1029.7,1370.8 1069.2,1370.8 1069.9,1414.5 1030.5,1414.5"/>
<path class="t" d="M1045.8,1370.8L1045.8,1382.9M1045.8,1402L1045.8,1414.5M1055.3,1370.8L1055.3,1382.9M1055.3,1402L1055.3,1414.5"/>
<circle class="l" style="fill:#fff" cx="1050.6" cy="1392.5" r="10.6"/>
<polygon class="l" style="fill:#fff" points="991,1433.4 1011.9,1433.4 1012.3,1469.5 991.8,1469.5"/>
<path class="t" d="M996.5,1433.4L996.5,1445.4M996.5,1457.1L996.5,1469.5M1002.3,1433.4L1002.3,1445.4M1002.3,1457.1L1002.3,1469.5"/>
<circle class="l" style="fill:#fff" cx="999.4" cy="1451.3" r="6.4"/>
<polygon class="l" style="fill:#fff" points="1353.2,1289.3 1393,1287.4 1393.8,1334.8 1354.4,1335.6"/>
<path class="t" d="M1365.9,1288.7L1365.9,1301.8M1365.9,1322.3L1365.9,1335.4M1376.2,1288.2L1376.2,1301.8M1376.2,1322.3L1376.2,1335.2"/>
<circle class="l" style="fill:#fff" cx="1371" cy="1312.1" r="11.4"/>
<polygon class="l" style="fill:#fff" points="1354.4,1335.6 1385.5,1334.8 1386.2,1365.2 1355.1,1365.9"/>
<polygon class="l" style="fill:#fff" points="1355.1,1365.9 1393.8,1365.2 1394.9,1408.8 1356.3,1409.9"/>
<path class="t" d="M1369,1365.6L1369,1376.5M1369,1397L1369,1409.5M1379.2,1365.4L1379.2,1376.5M1379.2,1397L1379.2,1409.2"/>
<circle class="l" style="fill:#fff" cx="1374.1" cy="1386.8" r="11.4"/>
<polygon class="l" style="fill:#fff" points="1413.9,1423.9 1438.6,1422.8 1439.3,1458.1 1415,1459.2"/>
<path class="t" d="M1423.1,1423.5L1423.1,1432.2M1423.1,1443.8L1423.1,1458.8M1428.9,1423.3L1428.9,1432.2M1428.9,1443.8L1428.9,1458.6"/>
<circle class="l" style="fill:#fff" cx="1426" cy="1438" r="6.4"/>
<polygon class="l" style="fill:#fff" points="1093.4,1315.9 1178.8,1314 1179.9,1353.8 1097.2,1354.5"/>
<polygon class="l" style="fill:url(#hc)" points="1099.1,1354.5 1127.6,1358.3 1157.9,1339.4 1179.9,1339.4 1179.9,1350 1161.7,1350.7 1131.4,1368.2 1120,1367.1 1120,1386 1110.5,1386 1106.7,1365.2"/>
<polygon class="l" style="fill:#fff" points="1243.2,1314 1330.5,1312.1 1331.6,1351.9 1247,1353.8"/>
<polygon class="l" style="fill:url(#hc)" points="1247,1336.7 1269.8,1336.7 1290.6,1353.8 1331.6,1350.7 1330.5,1362.1 1315.3,1362.1 1314.2,1384.1 1307.7,1384.1 1305.8,1363.3 1286.9,1363.3 1264.1,1348.1 1247,1348.1"/>
<polyline class="t" points="1118.1,1232.4 1119.2,1312.1"/>
<polyline class="t" points="1127.6,1232.4 1128.7,1312.1"/>
<polyline class="t" points="1302,1232.4 1304.3,1304.5"/>
<polyline class="t" points="1307.7,1232.4 1309.6,1304.5"/>
<polygon class="l" style="fill:#fff" points="1097.2,1281.7 1135.1,1279.8 1135.9,1314 1099.1,1315.1"/>
<polygon class="l" style="fill:#fff" points="1286.9,1281 1332.4,1277.9 1333.1,1312.1 1288.7,1314"/>
<polygon class="l" style="fill:#fff" points="1123.8,1418.3 1178.8,1416.4 1180.7,1465.7 1124.5,1466.8"/>
<path class="t" d="M1146.6,1417.5L1146.6,1433.5M1146.6,1456.1L1146.6,1466.4M1157.8,1417.1L1157.8,1433.5M1157.8,1456.1L1157.8,1466.1"/>
<circle class="l" style="fill:#fff" cx="1152.2" cy="1444.8" r="12.5"/>
<polygon class="l" style="fill:#fff" points="1248.9,1414.5 1307.7,1412.6 1309.6,1465.7 1250.8,1466.8"/>
<path class="t" d="M1275.5,1413.6L1275.5,1433.5M1275.5,1456.1L1275.5,1466.3M1286.8,1413.2L1286.8,1433.5M1286.8,1456.1L1286.8,1466.1"/>
<circle class="l" style="fill:#fff" cx="1281.2" cy="1444.8" r="12.5"/>
<polygon class="l" style="fill:#fff" points="1125.7,1467.6 1180.7,1465.7 1182.6,1520.7 1126.8,1521.4"/>
<polygon class="l" style="fill:#fff" points="1131.4,1477 1150.3,1471.4 1165.5,1505.5 1146.5,1515"/>
<path class="t" d="M1148.3,1466.8L1150.3,1471.4M1165.5,1505.5L1172.3,1520.8M1149,1521.1L1146.5,1515M1131.4,1477L1127.5,1467.5"/>
<polygon class="l" style="fill:#fff" points="1123.8,1539.6 1184.5,1537.7 1185.2,1594.6 1124.5,1594.6"/>
<polygon class="l" style="fill:#fff" points="1142.7,1547.2 1165.5,1549.1 1157.9,1587 1135.1,1583.2"/>
<path class="t" d="M1167.7,1538.2L1165.5,1549.1M1157.9,1587L1156.4,1594.6M1132.8,1594.6L1135.1,1583.2M1142.7,1547.2L1144.5,1539"/>
<polygon class="l" style="fill:#fff" points="1252.7,1467.6 1309.6,1465.7 1310.4,1518.8 1253.5,1519.9"/>
<polygon class="l" style="fill:#fff" points="1269.8,1471.4 1292.5,1475.1 1286.9,1513.1 1264.9,1509.3"/>
<path class="t" d="M1293.9,1466.2L1292.5,1475.1M1286.9,1513.1L1285.9,1519.2M1263.5,1519.7L1264.9,1509.3M1269.8,1471.4L1270.4,1467"/>
<polygon class="l" style="fill:#fff" points="1254.6,1533.9 1311.5,1532 1313.4,1592.7 1256.5,1594.6"/>
<polygon class="l" style="fill:#fff" points="1266,1543.4 1290.6,1541.5 1302,1581.3 1279.3,1587"/>
<path class="t" d="M1288.2,1532.8L1290.6,1541.5M1302,1581.3L1305.4,1593M1281.3,1593.8L1279.3,1587M1266,1543.4L1263,1533.7"/>
<polyline class="l" points="1109.4,1386 1110.5,1416.4 1123.8,1418.3"/>
<polygon class="l" style="fill:url(#hc)" points="1349.4,1596.5 1506.8,1593.5 1506.8,1626.9 1351.3,1627.6"/>
<!-- 06_center_left.txt -->
<polygon class="l" style="fill:url(#hc)" points="961.1,1598.5 990.7,1596.8 990.7,1576.9 1022,1575.8 1023.1,1592.8 1064.6,1591.1 1065.8,1575.8 1097.6,1574.6 1098.8,1623.5 981.6,1625.8 962.2,1627.5"/>
<polygon class="l" style="fill:#fff" points="962.4,1627.4 941.5,1663.4 916.9,1697.6 943.4,1690 966.2,1659.7 983.3,1642.6 981.4,1625.5"/>
<path class="l" d="M959.1,1632.4L980.4,1646M952.6,1642.4L974.8,1652.8M946.1,1652.5L969,1659.5M939.6,1662.5L963.3,1666.3M933.1,1672.5L957.6,1673.1M926.6,1682.6L951.9,1679.8M920.1,1692.6L946.2,1686.6"/>
<polygon class="l" style="fill:url(#hb)" points="916.9,1697.6 943.4,1690 944.4,1701.4 1050.4,1719 1052,1746.4 1016.3,1739 952,1743 915.6,1744.7"/>
<polygon class="l" style="fill:url(#hc)" points="915.6,1744.7 879.7,1765.8 882.6,1919.9 921.3,1945.5 925.2,1938.1 899.6,1912.5 897.9,1773.2 921.3,1747.6"/>
<polygon class="l" style="fill:#fff" points="894,1700.9 913.9,1700.9 913.9,1730.5 894,1730.5"/>
<polygon class="l" style="fill:#fff" points="899.6,1955.2 921.3,1955.2 921.3,1980.8 899.6,1980.8"/>
<polygon class="l" style="fill:url(#hb)" points="920.7,1944.6 1057.2,1943.6 1058.2,1960.7 958.6,1974 949.1,1983.4 948.2,1994.8 922.6,1981.5"/>
<polygon class="l" style="fill:#fff" points="922.6,1981.5 949.1,1994.8 985.2,2040.3 971.9,2046"/>
<polyline class="t" points="936,1988 978.5,2043"/>
<polygon class="l" style="fill:url(#hc)" points="974.7,2047.9 1002,2053.6 1110.1,2049.1 1111.3,2083.2 1064.6,2084.3 1063.5,2106 990.7,2108.8 989.5,2088.9 976.4,2088.9"/>
<polygon class="l" style="fill:#fff" points="952,1743 1016.3,1739 1019.1,1811.3 950.8,1814.1"/>
<polyline class="l" points="953.7,1770.3 990.7,1787.4 1016.3,1764.6"/>
<polyline class="l" points="990.7,1787.4 993.5,1811.3"/>
<polyline class="l" points="956.5,1793.1 990.7,1787.4"/>
<polygon class="l" style="fill:#fff" points="1019.1,1747.6 1052.1,1746.4 1070.3,1787.4 1073.2,1807.3 1022,1810.1"/>
<polyline class="l" points="1024.8,1781.7 1064.6,1770.3"/>
<polyline class="l" points="1039,1747.6 1044.7,1807.3"/>
<polygon class="l" style="fill:#fff" points="950.8,1884.1 1019.1,1881.8 1018,1943.8 954.3,1945.5"/>
<polyline class="l" points="952,1912.5 990.7,1906.9 1016.3,1923.9"/>
<polyline class="l" points="990.7,1884.1 990.7,1906.9"/>
<polyline class="l" points="962.2,1929.6 990.7,1918.2"/>
<polygon class="l" style="fill:#fff" points="1020.3,1881.8 1076,1884.1 1078.8,1901.2 1056.1,1942.1 1019.1,1943.8"/>
<polyline class="l" points="1024.8,1912.5 1064.6,1918.2"/>
<polyline class="l" points="1041.9,1884.1 1039,1941"/>
<polygon class="l" style="fill:url(#hb)" points="1097.6,1674.7 1130.1,1672.5 1134,1805.6 1076,1807.3 1073.2,1793.1 1087.4,1787.4 1087.4,1727.6 1097.6,1724.8"/>
<polygon class="l" style="fill:url(#hb)" points="1078.8,1884.1 1138.6,1881.3 1141.4,2009.3 1104.5,2012.1 1101.6,1958.1 1093.1,1955.2 1091.9,1906.9 1078.8,1901.2"/>
<polygon class="l" style="fill:url(#hb)" points="1107.3,1659.4 1152.8,1628.1 1186.9,1627 1188.6,1659.4 1152.8,1669.1 1131.8,1690.7 1130.1,1672.5 1098.8,1673.6"/>
<polygon class="l" style="fill:url(#hb)" points="1252.4,1628.1 1292.2,1625.2 1351.9,1670.8 1354.8,1690.7 1320.6,1703.2 1272.3,1672.5 1252.4,1669.1"/>
<polygon class="l" style="fill:url(#hb)" points="1104.5,2012.1 1141.4,2009.3 1161.3,2032 1195.5,2029.2 1196.6,2066.1 1155.7,2069"/>
<polygon class="l" style="fill:url(#hb)" points="1263.7,2012.1 1275.1,2010.4 1321.8,1978 1354.8,2003.6 1357.6,2026.3 1309.3,2066.1 1263.7,2063.3"/>
<path class="l" d="M1113,1655.5L1134.4,1688M1124.4,1647.6L1139.7,1682.6M1135.7,1639.8L1144.9,1677.2M1147.1,1632L1150.2,1671.8"/>
<path class="l" d="M1298.2,1629.8L1277.1,1675.5M1310.1,1638.9L1286.8,1681.7M1322.1,1648L1296.5,1687.8M1334,1657.1L1306.1,1694M1345.9,1666.2L1315.8,1700.1"/>
<path class="l" d="M1325.1,1980.5L1278.5,2016M1331.7,1985.6L1285.4,2027.1M1338.3,1990.8L1292.2,2038.3M1344.9,1995.9L1299,2049.4M1351.5,2001L1305.8,2060.6"/>
<polygon class="l" style="fill:url(#hc)" points="1172.7,1679.3 1269.4,1673.6 1319.5,1704.9 1321.8,1975.1 1275.1,2009.3 1178.4,2012.1 1178.4,1996.7 1269.4,1995 1306.4,1969.4 1303.6,1713.4 1260.9,1689.5 1173.9,1691.8"/>
<polygon class="l" style="fill:url(#hc)" points="1175.6,1693.5 1252.4,1690.7 1253.5,1707.7 1176.7,1710.6"/>
<polygon class="l" style="fill:url(#hc)" points="1175.6,1730.5 1255.2,1727.6 1256.9,1744.7 1177.3,1747.6"/>
<polygon class="l" style="fill:url(#hc)" points="1178.4,1770.3 1255.2,1767.5 1256.9,1787.4 1179.5,1790.2"/>
<polygon class="l" style="fill:url(#hc)" points="1179.5,1807.3 1255.2,1804.5 1255.8,1821.5 1180.7,1824.4"/>
<polygon class="l" style="fill:url(#hc)" points="1181.3,1864.2 1255.2,1861.3 1255.8,1881.3 1182.4,1884.1"/>
<polygon class="l" style="fill:url(#hc)" points="1182.4,1901.2 1256.9,1898.3 1258.1,1918.2 1184.1,1921.1"/>
<polygon class="l" style="fill:url(#hc)" points="1184.1,1941 1258.1,1938.1 1259.2,1955.2 1185.2,1958.1"/>
<polygon class="l" style="fill:url(#hc)" points="1185.2,1975.1 1259.2,1972.3 1260.3,1992.2 1186.4,1995"/>
<polyline class="l" points="1173.9,1691.8 1180.7,1824.4"/>
<polyline class="l" points="1253.5,1690.7 1255.8,1821.5"/>
<polyline class="l" points="1181.3,1864.2 1186.4,1996.7"/>
<polyline class="l" points="1255.2,1861.3 1260.3,1992.2"/>
<polygon class="l" style="fill:#fff" points="1080.6,1752.1 1269.4,1744.7 1272.3,1752.1 1270.6,1758.9 1081.7,1765.8 1078.8,1758.9"/>
<polygon class="l" style="fill:#fff" points="1084.5,1922.8 1272.3,1918.2 1275.1,1926.8 1274,1935.3 1086.2,1939.8 1082.8,1930.7"/>
<polygon class="l" style="fill:#fff" points="930.9,1813 1135.7,1807.3 1138.6,1878.4 933.8,1883"/>
<polyline class="t" points="936.6,1813 939.5,1883"/>
<polyline class="t" points="942.3,1813 945.2,1883"/>
<polyline class="t" points="933.8,1819.8 1135.7,1814.1"/>
<path class="l" d="M1130.1,1840.3 L1087.4,1841.4 Q1078.8,1847.1 1087.4,1853.9 L1130.1,1852.2"/>
<polygon class="l" style="fill:#fff" points="1134,1803.3 1141.4,1804.5 1147.1,1884.1 1139.7,1885.2"/>
<polygon class="l" style="fill:#fff" points="1141.4,1827.2 1707.5,1815.8 1708.6,1855.7 1155.7,1862.5"/>
<polyline class="t" points="1155.7,1836.3 1707.5,1824.4"/>
<polyline class="t" points="1150,1831.8 1707.5,1819.8"/>
<!-- 07_center_right_up.txt -->
<polygon class="l" style="fill:url(#hc)" points="1352.2,1599.4 1520.3,1597.5 1524,1534.1 1598.8,1532.2 1599.9,1556.9 1557,1558.8 1555.9,1627.8 1435.7,1629 1434.9,1689.6 1503.9,1689.6 1505.1,1719.2 1426.2,1720.7 1395.9,1720.7 1369.3,1720.7 1369.3,1691.5 1382.6,1690.4 1382.6,1629 1350.3,1627.8"/>
<polygon class="l" style="fill:url(#hb)" points="1353.4,1768.5 1490.7,1765.5 1492.6,1787.1 1321.9,1790.1 1321.9,1689.6 1350.3,1678.3 1352.2,1723.8"/>
<polygon class="l" style="fill:#fff" points="1354.1,1723 1394,1721.9 1395.1,1765.5 1354.9,1767.4"/>
<path class="t" d="M1354.4,1741.2L1365.8,1741.2M1384.2,1741.2L1394.5,1741.2M1354.6,1750.4L1365.8,1750.4M1384.2,1750.4L1394.7,1750.4"/>
<circle class="l" style="fill:#fff" cx="1375" cy="1745.8" r="10.2"/>
<polygon class="l" style="fill:#fff" points="1395.1,1735.1 1426.2,1734.4 1427,1765.5 1395.9,1766.2"/>
<polygon class="l" style="fill:#fff" points="1426.2,1720.7 1467.9,1719.2 1469.1,1764.7 1427.7,1766.2"/>
<path class="t" d="M1426.8,1740L1437.8,1740M1456.3,1740L1468.4,1740M1427.1,1749.2L1437.8,1749.2M1456.3,1749.2L1468.7,1749.2"/>
<circle class="l" style="fill:#fff" cx="1447.1" cy="1744.6" r="10.2"/>
<polyline class="t" points="1471.7,1720 1473.6,1765.5"/>
<polyline class="t" points="1476.3,1720 1478.2,1765.5"/>
<polyline class="l" points="1492.6,1765.5 1494.5,1822.4"/>
<polyline class="l" points="1503.9,1689.6 1506.6,1822.4"/>
<polyline class="l" points="1555.9,1627.8 1560.8,1818.6"/>
<polygon class="l" style="fill:url(#ha)" points="1621.5,1549.3 1898.4,1517.1 1899.5,1537.9 1631,1567.5"/>
<polygon class="l" style="fill:url(#hc)" points="1557,1558.8 1619.6,1556.9 1621.5,1549.3 1631,1567.5 1621.5,1574 1555.9,1575.9"/>
<polygon class="l" style="fill:url(#hb)" points="1555.9,1575.9 1577.9,1575.1 1578.7,1615.7 1663.2,1613.8 1664.4,1649.8 1653.8,1651.7 1632.9,1646 1555.9,1630.8"/>
<polygon class="l" style="fill:#fff" points="1577.9,1575.9 1612,1574 1613.9,1613.8 1578.7,1615.7"/>
<path class="t" d="M1591.6,1575.1L1591.6,1588M1591.6,1601.6L1591.6,1615M1598.4,1574.7L1598.4,1588M1598.4,1601.6L1598.4,1614.6"/>
<circle class="l" style="fill:#fff" cx="1595" cy="1594.8" r="7.6"/>
<polygon class="l" style="fill:url(#hc)" points="1613.9,1574 1629.1,1572.8 1630.2,1613.8 1615.1,1614.5"/>
<polygon class="l" style="fill:url(#ha)" points="1663.2,1613.8 1684.1,1613 1684.9,1656.3 1818.7,1663.1 1817.6,1678.3 1668.2,1670.7 1668.2,1649.8 1664.4,1649.8"/>
<polygon class="l" style="fill:#fff" points="1684.9,1621.4 1691.7,1621.4 1691.7,1642.2 1684.9,1642.2"/>
<polygon class="l" style="fill:url(#hb)" points="1632.9,1646 1653.8,1651.7 1654.5,1776.9 1670.8,1777.6 1672,1803.4 1621.5,1803.4 1619.6,1776.9 1636.7,1776.1"/>
<polygon class="l" style="fill:#fff" points="1653.8,1651.7 1668.2,1651.7 1668.9,1776.9 1654.5,1776.9"/>
<polygon class="l" style="fill:url(#hc)" points="1621.5,1803.4 1672.7,1802.7 1673.5,1816.7 1622.7,1817.8"/>
<polygon class="l" style="fill:#fff" points="1703.1,1816.7 1756.2,1814.8 1758.1,1856.5 1703.8,1857.3"/>
<path class="l" d="M1754.3,1830 L1716.3,1830.7 Q1708.7,1836.8 1716.3,1843.2 L1754.3,1842.1"/>
<path class="l" d="M1898.4,1517 C1890,1560 1902,1620 1900.3,1651.7 C1899,1690 1893,1760 1885.1,1803.4 C1882,1840 1888,1900 1890,1930 C1895,1990 1905,2050 1909.8,2149"/>
<path class="l" d="M1818.7,1663.8 C1820,1700 1813,1770 1806.2,1803.4 C1803,1840 1812,1880 1818,1905 C1824,1940 1828,1980 1828.2,2014.5"/>
<!-- 08_center_right_low.txt -->
<polygon class="l" style="fill:#fff" points="1323.8,1860.9 1494.5,1859 1495.2,1895 1324.6,1896.1"/>
<polyline class="l" points="1505.8,1859 1509.6,1965.2"/>
<polyline class="l" points="1560.8,1858.2 1566.5,2058.1"/>
<polygon class="l" style="fill:url(#hb)" points="1324.6,1896.1 1495.2,1893.9 1494.5,1917.7 1356,1918.9 1357.2,2006.9 1321.9,2012.6 1321.9,1896.9"/>
<polygon class="l" style="fill:#fff" points="1357.9,1919.6 1397.7,1918.9 1398.9,1963.3 1358.7,1964.4"/>
<path class="t" d="M1358.2,1937.8L1369.6,1937.8M1388,1937.8L1398.2,1937.8M1358.4,1947L1369.6,1947M1388,1947L1398.5,1947"/>
<circle class="l" style="fill:#fff" cx="1378.8" cy="1942.4" r="10.2"/>
<polygon class="l" style="fill:#fff" points="1398.9,1919.6 1428.1,1918.9 1429.2,1950 1399.6,1950.7"/>
<polygon class="l" style="fill:#fff" points="1429.2,1918.9 1469.8,1917.7 1470.9,1962.1 1430,1963.3"/>
<path class="t" d="M1429.5,1937L1441.6,1937M1460.1,1937L1470.3,1937M1429.7,1946.3L1441.6,1946.3M1460.1,1946.3L1470.5,1946.3"/>
<circle class="l" style="fill:#fff" cx="1450.8" cy="1941.6" r="10.2"/>
<polyline class="t" points="1475.5,1917.7 1477.4,1963.3"/>
<polyline class="t" points="1480.1,1917.7 1481.9,1963.3"/>
<polygon class="l" style="fill:url(#hc)" points="1373.1,1965.2 1509.6,1963.3 1510.4,1989.8 1443.3,1991.7 1444.4,2060 1562.7,2059.2 1566.5,2122.6 1612.8,2124.5 1612,2145.3 1532.4,2145.3 1534.3,2101.7 1524.8,2092.2 1475.5,2090.3 1392.1,2091.1 1390.2,2111.2 1357.9,2110 1357.2,2061.9 1394,2060 1392.8,1991.7 1373.9,1992.5"/>
<polygon class="l" style="fill:url(#hc)" points="1420.5,2092.2 1475.5,2090.3 1479.3,2242 1460.3,2242 1456.5,2105.5 1419.4,2107.4"/>
<polygon class="l" style="fill:url(#hb)" points="1621.5,1859 1672.7,1857.1 1674.6,1900.7 1640.5,1902.6 1623.4,1898.8"/>
<polygon class="l" style="fill:url(#hb)" points="1640.5,1902.6 1653.8,1902.6 1659.4,2031.5 1676.5,2037.2 1678.4,2065.7 1566.5,2067.6 1566.5,2056.9 1638.6,2038 1644.3,2035.3"/>
<polygon class="l" style="fill:#fff" points="1655.7,1902.6 1672.7,1900.7 1675.8,2036.5 1659.4,2031.5"/>
<polygon class="l" style="fill:url(#hc)" points="1566.5,2067.6 1587.4,2067.6 1588.5,2104.7 1624.2,2103.6 1623.4,2066.8 1642.4,2066.8 1641.6,2113.1 1623.4,2128.2 1612.8,2124.5 1566.5,2122.6"/>
<polygon class="l" style="fill:#fff" points="1587.4,2067.6 1623.4,2066.8 1624.2,2103.6 1588.5,2104.7"/>
<path class="t" d="M1587.8,2081.2L1597.6,2081.2M1611.3,2081.2L1623.7,2081.2M1588,2088L1597.6,2088M1611.3,2088L1623.9,2088"/>
<circle class="l" style="fill:#fff" cx="1604.5" cy="2084.6" r="7.6"/>
<polygon class="l" style="fill:url(#ha)" points="1676.5,2018.3 1820.6,1999.3 1828.2,2014.5 1693.6,2031.5 1692.4,2065.7 1678.4,2065.7"/>
<polygon class="l" style="fill:#fff" points="1693.6,2042.9 1703.1,2044.8 1702.3,2060 1693.6,2060"/>
<polygon class="l" style="fill:url(#ha)" points="1642.4,2109.3 1902.2,2132 1909.8,2149.1 1900.3,2161.6 1631,2128.2"/>
<polygon class="l" style="fill:#fff" points="1705,1838.1 1756.2,1838.1 1756.2,1855.2 1705,1855.9"/>
<path class="t" d="M1579.8,1851.4 C1585.5,1889.3 1623.4,1927.2 1710.6,1953.8"/>
<!-- 09_neck_lower.txt -->
<polygon class="l" style="fill:url(#hc)" points="974,2036.2 1002.4,2036.2 1003.2,2055.2 1108.6,2053.3 1111.6,2088.5 1135.1,2090.1 1133.2,2110.2 1078.3,2112.1 1072.6,2089.3 992.9,2090.1 975.9,2089.3"/>
<polygon class="l" style="fill:url(#hc)" points="979.6,2091.2 1034.6,2089.3 1035.8,2102.6 999.4,2107.5 1003.2,2292.2 983.4,2294.1"/>
<polygon class="l" style="fill:url(#hb)" points="1076.4,2112.8 1133.2,2110.2 1137,2129.1 1150.3,2146.2 1150.3,2165.2 1137,2169 1138.2,2256.2 1131.4,2260 1132.1,2305.5 1116.2,2307.4 1118.1,2407.1 1094.2,2407.9 1092.7,2237.2 1104.8,2235.3 1102.9,2127.2 1078.3,2125.3"/>
<polygon class="l" style="fill:url(#hb)" points="1015.7,2214.5 1046,2212.6 1050.9,2308.5 1053.6,2377.5 1037.3,2379.4 1032.7,2225.8 1017.6,2226.6"/>
<polygon class="l" style="fill:#fff" points="1003.2,2225.8 1032.7,2225.1 1033.5,2261.9 1003.9,2263"/>
<ellipse class="l" style="fill:#fff" cx="1015.7" cy="2242.9" rx="5.7" ry="8.3" transform="rotate(0 1015.7 2242.9)"/>
<polygon class="l" style="fill:#fff" points="1051.7,2266.8 1091.5,2265.7 1092.7,2307.4 1052.5,2308.5"/>
<path class="t" d="M1066.6,2266.4L1066.6,2277M1066.6,2296.1L1066.6,2308.1M1076.2,2266.1L1076.2,2277M1076.2,2296.1L1076.2,2307.8"/>
<circle class="l" style="fill:#fff" cx="1071.4" cy="2286.5" r="10.6"/>
<polygon class="l" style="fill:#fff" points="1053.6,2332 1093.4,2331.3 1094.2,2377.5 1054.7,2378.3"/>
<path class="t" d="M1067.8,2331.8L1067.8,2345.2M1067.8,2364.3L1067.8,2378.1M1077.3,2331.6L1077.3,2345.2M1077.3,2364.3L1077.3,2377.9"/>
<circle class="l" style="fill:#fff" cx="1072.6" cy="2354.8" r="10.6"/>
<polygon class="l" style="fill:url(#hc)" points="970.2,2311.2 1034.6,2309.3 1035.8,2345.3 991,2347.2 990.3,2343.4 968.3,2343.4"/>
<polygon class="l" style="fill:#fff" points="1137,2091.2 1199.6,2089.3 1200.4,2142.4 1138.2,2143.2"/>
<polygon class="l" style="fill:#fff" points="1146.5,2106.4 1171.2,2096.9 1180.7,2127.2 1157.9,2134.8"/>
<path class="t" d="M1169.1,2090.2L1171.2,2096.9M1180.7,2127.2L1185.5,2142.6M1161.1,2142.9L1157.9,2134.8M1146.5,2106.4L1140.4,2091.1"/>
<polygon class="l" style="fill:#fff" points="1150.3,2146.2 1199.6,2145.4 1200.4,2167.1 1151.1,2168.2"/>
<polygon class="l" style="fill:#fff" points="1137,2169 1199.6,2168.2 1200.8,2214.5 1138.2,2215.2"/>
<polygon class="l" style="fill:#fff" points="1161.7,2172.7 1180.7,2180.3 1171.2,2206.9 1150.3,2199.3"/>
<path class="t" d="M1184.9,2168.4L1180.7,2180.3M1171.2,2206.9L1168.3,2214.9M1143.5,2215.2L1150.3,2199.3M1161.7,2172.7L1163.5,2168.6"/>
<polygon class="l" style="fill:#fff" points="1138.2,2215.2 1200.4,2214.5 1201.5,2256.2 1138.9,2256.9"/>
<path class="t" d="M1164.9,2214.9L1164.9,2226.2M1164.9,2246.7L1164.9,2256.6M1175.2,2214.8L1175.2,2226.2M1175.2,2246.7L1175.2,2256.5"/>
<circle class="l" style="fill:#fff" cx="1170" cy="2236.5" r="11.4"/>
<polygon class="l" style="fill:#fff" points="1132.1,2260 1201.5,2258.1 1202.3,2288.4 1132.9,2289.6"/>
<polygon class="l" style="fill:url(#hc)" points="1118.1,2308.5 1142.7,2293.4 1150.3,2311.2 1165.5,2318.8 1202.3,2316.9 1202.7,2333.9 1163.6,2335.8 1146.5,2320.7 1120,2321.4"/>
<polyline class="l" points="1118.1,2321.4 1119.2,2407.1 1203.4,2407.1"/>
<polygon class="l" style="fill:#fff" points="1263.3,2091.2 1322.9,2096.9 1324,2142.4 1264.1,2143.2"/>
<polygon class="l" style="fill:#fff" points="1283.1,2096.9 1307.7,2104.5 1298.2,2131 1275.5,2125.3"/>
<path class="t" d="M1310.8,2095.7L1307.7,2104.5M1298.2,2131L1294,2142.8M1270.7,2143.1L1275.5,2125.3M1283.1,2096.9L1284,2093.2"/>
<polygon class="l" style="fill:#fff" points="1264.1,2148.1 1307.7,2147 1308.8,2165.2 1264.9,2165.9"/>
<polygon class="l" style="fill:#fff" points="1264.9,2167.1 1324.8,2169 1325.5,2214.5 1266,2215.2"/>
<polygon class="l" style="fill:#fff" points="1283.1,2176.5 1302,2170.8 1311.5,2199.3 1292.5,2206.9"/>
<path class="t" d="M1301.1,2168.2L1302,2170.8M1311.5,2199.3L1316.6,2214.6M1295,2214.9L1292.5,2206.9M1283.1,2176.5L1280.2,2167.5"/>
<polygon class="l" style="fill:#fff" points="1266,2215.2 1325.5,2214.5 1326.7,2256.2 1267.1,2256.9"/>
<path class="t" d="M1291.2,2214.9L1291.2,2226.2M1291.2,2246.7L1291.2,2256.6M1301.5,2214.8L1301.5,2226.2M1301.5,2246.7L1301.5,2256.5"/>
<circle class="l" style="fill:#fff" cx="1296.3" cy="2236.5" r="11.4"/>
<polygon class="l" style="fill:#fff" points="1267.1,2258.1 1330.5,2256.9 1331.6,2286.5 1267.9,2288.4"/>
<polygon class="l" style="fill:url(#hb)" points="1321,2096.9 1353.2,2093.1 1355.1,2244.8 1376,2246.7 1378.6,2406 1360.8,2407.1 1357,2305.5 1332.4,2301.7 1330.5,2258.1 1325.5,2256.2 1324.8,2144.3 1309.6,2146.2 1308.8,2167.1 1324.8,2169 1322.9,2096.9"/>
<polygon class="l" style="fill:url(#hc)" points="1357,2060.9 1506.8,2059 1506.8,2089.3 1393,2091.2 1391.2,2108.3 1358.9,2110.2"/>
<polygon class="l" style="fill:url(#hc)" points="1421.5,2092.3 1476.5,2090.1 1480.3,2286.5 1467,2292.2 1457.5,2290.3 1455.6,2106.4 1421.5,2108.3"/>
<polygon class="l" style="fill:url(#hb)" points="1413.9,2214.5 1448,2212.6 1449.2,2225.8 1429.1,2227.7 1431,2379.4 1413.9,2380.6"/>
<polygon class="l" style="fill:#fff" points="1431,2227.7 1457.5,2226.6 1458.3,2263.8 1431.7,2264.5"/>
<ellipse class="l" style="fill:#fff" cx="1444.2" cy="2246.7" rx="5.7" ry="8.3" transform="rotate(0 1444.2 2246.7)"/>
<polygon class="l" style="fill:#fff" points="1378.6,2263.8 1412.8,2263 1413.9,2307.4 1379.8,2308.5"/>
<path class="t" d="M1391.3,2263.5L1391.3,2275.1M1391.3,2294.2L1391.3,2308.1M1400.9,2263.3L1400.9,2275.1M1400.9,2294.2L1400.9,2307.8"/>
<circle class="l" style="fill:#fff" cx="1396.1" cy="2284.6" r="10.6"/>
<polygon class="l" style="fill:#fff" points="1387.4,2332 1413.9,2331.3 1415,2379.4 1388.5,2380.6"/>
<path class="t" d="M1394,2331.8L1394,2347.1M1394,2366.2L1394,2380.3M1403.5,2331.6L1403.5,2347.1M1403.5,2366.2L1403.5,2379.9"/>
<circle class="l" style="fill:#fff" cx="1398.7" cy="2356.7" r="10.6"/>
<polygon class="l" style="fill:url(#hc)" points="1431,2309.3 1480.3,2307.4 1482.2,2343.4 1434.8,2345.3"/>
<polygon class="l" style="fill:url(#hc)" points="1266,2318.8 1302,2316.9 1321,2301.7 1357,2305.5 1357,2318.8 1324.8,2320.7 1305.8,2333.9 1267.1,2335.1"/>
<polyline class="l" points="1358.9,2332 1360.8,2406 1267.1,2407.1"/>
<!-- 10_left211.txt -->
<polygon class="l" style="fill:url(#hb)" points="793.6,2345.5 968.1,2342.5 983.2,2349.3 988.2,2351.2 987,2380.4 939.6,2382.7 795.5,2385.3"/>
<polygon class="l" style="fill:url(#hc)" points="969.2,2311.4 1034.4,2309.5 1036.3,2347.4 983.2,2349.3 968.1,2342.5"/>
<polygon class="l" style="fill:url(#hc)" points="780.3,2346.3 793.6,2345.5 795.5,2385.3 782.2,2386.5"/>
<polygon class="l" style="fill:url(#hc)" points="782.2,2386.5 795.5,2385.3 770.8,2413.8 769,2455.5 757.6,2456.3 756.8,2410"/>
<polygon class="l" style="fill:url(#hc)" points="759.5,2508.6 770.8,2507.8 772,2546.5 795.5,2571.2 786,2575 760.6,2552.2"/>
<polygon class="l" style="fill:url(#hc)" points="786,2575 796.3,2573.8 797.4,2611 787.2,2612.1"/>
<polygon class="l" style="fill:url(#hb)" points="797.4,2573.8 981.3,2571.2 992.7,2573.1 994.6,2599.6 971.9,2601.5 970,2620.5 954.8,2622.4 954,2608 797.4,2611"/>
<polygon class="l" style="fill:url(#hc)" points="971.9,2601.5 1034.4,2598.9 998.4,2643.2 954,2645.1 954.8,2622.4 970,2620.5"/>
<polygon class="l" style="fill:url(#hc)" points="1000.3,2643.2 1036.3,2641.3 1037.5,2653.5 1002.2,2654.6"/>
<polygon class="l" style="fill:url(#hc)" points="1186.1,2650.8 1188,2573.1 1205.1,2572.3 1207,2652.7"/>
<polyline class="l" points="1036.3,2599.6 1186.1,2597.7"/>
<polygon class="l" style="fill:url(#hb)" points="1034.4,2298.1 1051.5,2298.1 1052.6,2372.1 1036.3,2374"/>
<polygon class="l" style="fill:#fff" points="1052.6,2330.3 1093.2,2329.6 1094.4,2375.9 1053.4,2376.6"/>
<path class="t" d="M1067.6,2330.1L1067.6,2345.4M1067.6,2364.6L1067.6,2376.3M1077.1,2329.9L1077.1,2345.4M1077.1,2364.6L1077.1,2376.2"/>
<circle class="l" style="fill:#fff" cx="1072.4" cy="2355" r="10.6"/>
<polygon class="l" style="fill:url(#hb)" points="1094.4,2298.1 1114.1,2298.1 1116,2406.2 1095.1,2407"/>
<polygon class="l" style="fill:url(#hc)" points="1116,2311.4 1144.4,2307.6 1167.2,2328.4 1201.3,2326.5 1202.1,2337.9 1165.3,2339.8 1146.3,2320.9 1117.1,2322.8"/>
<polygon class="l" style="fill:#fff" points="666.5,2463.1 751.9,2461.2 753,2501 667.3,2501.8"/>
<path class="l" d="M670.3,2474.5 L734.8,2473.7 Q744.3,2481.3 734.8,2488.9 L670.3,2489.6"/>
<polygon class="l" style="fill:#fff" points="753,2457.4 801.2,2455.5 803.1,2504.8 753.8,2505.6"/>
<polygon class="l" style="fill:#fff" points="803.1,2453.6 820.2,2452.8 821.3,2507.8 804.2,2508.6"/>
<polyline class="t" points="807.6,2453.6 808.8,2508.2"/>
<polyline class="t" points="811.4,2453.2 812.6,2508.2"/>
<polyline class="t" points="815.2,2453.2 816.4,2507.8"/>
<polygon class="l" style="fill:#fff" points="820.2,2450.9 983.2,2448.7 984.4,2504.8 821.3,2506.7"/>
<polyline class="t" points="837.2,2454 981.3,2451.7"/>
<polyline class="t" points="821.3,2466.9 981.3,2465.4"/>
<polygon class="l" style="fill:#fff" points="981.3,2436.5 988.9,2435.8 990.8,2518.1 983.2,2519.2"/>
<polygon class="l" style="fill:#fff" points="990.8,2451.7 1098.9,2449.8 1099.7,2504.8 992,2506.7"/>
<polyline class="t" points="990.8,2455.5 1095.1,2453.6"/>
<polyline class="t" points="990.8,2466.9 1095.1,2465.4"/>
<polygon class="l" style="fill:#fff" points="1098.9,2432.7 1116,2432 1117.1,2510.5 1100.1,2511.6"/>
<polyline class="h" points="1099.7,2433.5 1100.8,2510.9"/>
<polygon class="l" style="fill:#fff" points="1117.1,2453.6 1140.6,2452.8 1141.4,2499.1 1117.9,2499.9"/>
<polyline class="h" points="1117.9,2454.4 1140.6,2453.6"/>
<polygon class="l" style="fill:#fff" points="820.2,2386.5 863.8,2385.3 864.9,2449.8 821.3,2450.9"/>
<path class="t" d="M820.6,2413.5L832.9,2413.5M856.8,2413.5L864.3,2413.5M820.8,2425.4L832.9,2425.4M856.8,2425.4L864.5,2425.4"/>
<circle class="l" style="fill:#fff" cx="844.8" cy="2419.5" r="13.3"/>
<polygon class="l" style="fill:#fff" points="864.9,2385.3 911.2,2384.2 912.3,2447.9 865.7,2449.1"/>
<polygon class="l" style="fill:#fff" points="871.4,2402.4 905.5,2411.9 901.7,2430.8 867.6,2423.3"/>
<path class="t" d="M865.1,2400.7L871.4,2402.4M905.5,2411.9L911.7,2413.6M912,2433.1L901.7,2430.8M867.6,2423.3L865.4,2422.8"/>
<polygon class="l" style="fill:#fff" points="912.3,2391 937.7,2390.3 938.9,2447.9 913.1,2448.7"/>
<polygon class="l" style="fill:#fff" points="939.6,2382.7 979.4,2381.5 980.6,2447.2 940.4,2447.9"/>
<polygon class="l" style="fill:#fff" points="943.4,2415.7 968.1,2398.6 977.5,2413.8 949.1,2430.8"/>
<path class="t" d="M940,2418L943.4,2415.7M968.1,2398.6L979.6,2390.6M980,2412.3L977.5,2413.8M949.1,2430.8L940.2,2436.2"/>
<polygon class="l" style="fill:#fff" points="808.8,2432.7 820.2,2432.7 821.3,2451.7 809.9,2451.7"/>
<polygon class="l" style="fill:#fff" points="821.3,2507.8 863.8,2506.7 864.9,2571.2 822,2572.3"/>
<path class="t" d="M821.6,2534.9L829.1,2534.9M853,2534.9L864.3,2534.9M821.7,2546.8L829.1,2546.8M853,2546.8L864.5,2546.8"/>
<circle class="l" style="fill:#fff" cx="841" cy="2540.8" r="13.3"/>
<polygon class="l" style="fill:#fff" points="864.9,2506.7 912.3,2505.6 913.1,2570 865.7,2571.2"/>
<polygon class="l" style="fill:#fff" points="871.4,2538.9 901.7,2523.8 911.2,2542.7 880.8,2556"/>
<path class="t" d="M865.3,2542L871.4,2538.9M901.7,2523.8L912.5,2518.4M912.7,2542L911.2,2542.7M880.8,2556L865.6,2562.7"/>
<polygon class="l" style="fill:#fff" points="913.8,2506.7 939.6,2505.9 940.4,2550.3 914.6,2551.1"/>
<polygon class="l" style="fill:#fff" points="940.4,2505.9 981.3,2504.8 982.5,2570 941.5,2571.2"/>
<polygon class="l" style="fill:#fff" points="947.2,2525.7 973.8,2535.1 970,2556 943.4,2546.5"/>
<path class="t" d="M940.7,2523.3L947.2,2525.7M973.8,2535.1L981.9,2538.1M982.3,2560.4L970,2556M943.4,2546.5L941.1,2545.7"/>
<polygon class="l" style="fill:#fff" points="808.8,2506.7 821.3,2506.7 822,2527.6 809.9,2527.6"/>
<!-- 11_right211.txt -->
<polygon class="l" style="fill:url(#hc)" points="1266.5,2316 1308.3,2314.1 1327.2,2293.3 1357.6,2297.1 1353.8,2308.4 1331,2306.5 1312.1,2329.3 1267.3,2331.2"/>
<polygon class="l" style="fill:url(#hb)" points="1332.9,2278.1 1372.7,2278.1 1378.4,2403.3 1358.3,2405.2 1353.8,2306.5 1331,2293.3"/>
<polyline class="l" points="1267.3,2405.2 1358.3,2405.2"/>
<polygon class="l" style="fill:#fff" points="1386,2278.1 1412.6,2278.1 1413.7,2310.3 1387.2,2311.1"/>
<path class="t" d="M1393.1,2278.1L1393.1,2279.1M1393.1,2296.1L1393.1,2310.9M1401.7,2278.1L1401.7,2279.1M1401.7,2296.1L1401.7,2310.7"/>
<circle class="l" style="fill:#fff" cx="1397.4" cy="2287.6" r="9.5"/>
<polygon class="l" style="fill:#fff" points="1387.2,2311.1 1406.9,2310.3 1407.6,2333.1 1387.9,2333.9"/>
<polygon class="l" style="fill:#fff" points="1386,2333.9 1414.5,2333.1 1415.2,2379.4 1387.2,2380.5"/>
<path class="t" d="M1394.3,2333.6L1394.3,2349.2M1394.3,2366.3L1394.3,2380.2M1402.8,2333.4L1402.8,2349.2M1402.8,2366.3L1402.8,2379.9"/>
<circle class="l" style="fill:#fff" cx="1398.5" cy="2357.7" r="9.5"/>
<polygon class="l" style="fill:url(#hb)" points="1412.6,2278.1 1429.6,2278.1 1430.8,2378.6 1415.2,2379.4"/>
<polygon class="l" style="fill:url(#hc)" points="1431.5,2310.3 1480.8,2307.3 1482.7,2344.5 1433.4,2346.4"/>
<polyline class="l" points="1480.8,2307.3 1497.9,2306.5 1499.8,2338.8"/>
<polygon class="l" style="fill:url(#hb)" points="1477,2346.4 1482.7,2344.5 1499.8,2338.8 1670.5,2336.9 1666.7,2376.7 1551,2379.4 1549.1,2390 1524.5,2390.7 1522.6,2380.5 1478.2,2381.6"/>
<polygon class="l" style="fill:url(#hc)" points="1664,2338.8 1674.3,2336.9 1676.2,2374.8 1664.8,2376.7"/>
<polygon class="l" style="fill:#fff" points="1676.2,2344.5 1687.5,2345.2 1687.5,2361.5 1676.9,2361.5"/>
<polygon class="l" style="fill:url(#hc)" points="1668.6,2380.5 1676.2,2374.8 1708.4,2405.2 1710.3,2427.9 1704.6,2445 1693.2,2443.1 1697,2424.1 1695.1,2409"/>
<polygon class="l" style="fill:url(#hc)" points="1697,2496.2 1708.4,2494.3 1713.3,2530.3 1681.8,2562.6 1672.4,2564.5 1700.8,2526.5"/>
<polygon class="l" style="fill:url(#hc)" points="1666.7,2564.5 1679.9,2562.6 1681.8,2600.5 1668.6,2601.6"/>
<polygon class="l" style="fill:#fff" points="1681.8,2572 1693.2,2572.8 1693.2,2591 1683,2591.8"/>
<polygon class="l" style="fill:url(#hb)" points="1477,2566.3 1666.7,2560.7 1668.6,2600.5 1511.2,2604.3 1510,2613.8 1486.5,2615.7 1478.9,2598.6"/>
<polygon class="l" style="fill:url(#hc)" points="1429.6,2597.8 1478.9,2595.5 1486.5,2616.8 1509.3,2614.5 1508.5,2638.4 1465.7,2639.5 1464.5,2653.6 1428.9,2649.8"/>
<polygon class="l" style="fill:url(#hc)" points="1268.4,2571.3 1287.4,2572 1288.5,2650.9 1267.3,2651.7"/>
<polyline class="l" points="1289.3,2596.7 1427.7,2595.5"/>
<polygon class="l" style="fill:#fff" points="1331,2455.2 1353.8,2454.5 1354.5,2499.2 1331.8,2500"/>
<polyline class="h" points="1331.8,2456 1353.8,2455.2"/>
<polygon class="l" style="fill:#fff" points="1374.6,2446.1 1471.4,2445 1472.1,2500.7 1375.8,2501.9"/>
<polyline class="t" points="1376.5,2449.9 1467.6,2448.8"/>
<polygon class="l" style="fill:#fff" points="1353.8,2431.7 1372.7,2430.9 1374.6,2509.5 1355.7,2510.6"/>
<polyline class="h" points="1354.5,2432.5 1356.4,2509.8"/>
<polygon class="l" style="fill:#fff" points="1469.5,2441.2 1477,2440.4 1478.9,2517 1470.6,2518.2"/>
<polygon class="l" style="fill:#fff" points="1477,2445.7 1645.8,2443.8 1646.6,2500.7 1478.2,2501.9"/>
<polyline class="t" points="1478.9,2458.3 1643.9,2456.7"/>
<polygon class="l" style="fill:#fff" points="1643.9,2443.1 1666.7,2442.3 1667.8,2501.9 1645.1,2503"/>
<polyline class="t" points="1648.8,2443.1 1650,2502.6"/>
<polyline class="t" points="1653.4,2443.1 1654.5,2502.6"/>
<polyline class="t" points="1658,2442.7 1659.1,2502.3"/>
<polyline class="t" points="1661.7,2442.7 1662.9,2502.3"/>
<polygon class="l" style="fill:#fff" points="1667.8,2448.8 1719.8,2446.9 1720.9,2492.4 1668.6,2494.3"/>
<polygon class="l" style="fill:#fff" points="1720.9,2450.7 1793.7,2448.8 1794.5,2487.8 1721.7,2489.4"/>
<path class="l" d="M1789.9,2463.9 L1736.8,2464.7 Q1729.3,2469.6 1736.8,2475.3 L1789.9,2474.6"/>
<polygon class="l" style="fill:#fff" points="1478.2,2381.6 1522.6,2380.5 1524.5,2445 1478.9,2446.1"/>
<polygon class="l" style="fill:#fff" points="1482.7,2393.8 1516.9,2401.4 1520.7,2420.3 1486.5,2416.5"/>
<path class="t" d="M1478.3,2392.8L1482.7,2393.8M1516.9,2401.4L1523.2,2402.8M1523.7,2420.7L1520.7,2420.3M1486.5,2416.5L1478.6,2415.7"/>
<polygon class="l" style="fill:#fff" points="1524.5,2390.7 1549.1,2390 1550.2,2445 1525.2,2445.7"/>
<polygon class="l" style="fill:#fff" points="1550.2,2379.4 1598.4,2377.9 1600.3,2443.8 1551,2445"/>
<polygon class="l" style="fill:#fff" points="1558.6,2412.7 1585.1,2393.8 1594.6,2407.1 1566.2,2427.9"/>
<path class="t" d="M1550.7,2418.4L1558.6,2412.7M1585.1,2393.8L1598.6,2384.2M1599.2,2403.7L1594.6,2407.1M1566.2,2427.9L1550.9,2439.1"/>
<polygon class="l" style="fill:#fff" points="1598.4,2377.9 1642,2376.7 1643.9,2443.1 1600.3,2443.8"/>
<path class="t" d="M1599.2,2406.8L1609.2,2406.8M1633.1,2406.8L1642.9,2406.8M1599.6,2418.7L1609.2,2418.7M1633.1,2418.7L1643.2,2418.7"/>
<circle class="l" style="fill:#fff" cx="1621.2" cy="2412.7" r="13.3"/>
<polygon class="l" style="fill:#fff" points="1478.9,2503.8 1524.5,2503 1525.2,2564.5 1479.7,2565.2"/>
<polygon class="l" style="fill:#fff" points="1482.7,2526.5 1518.8,2515.1 1524.5,2530.3 1490.3,2545.5"/>
<path class="t" d="M1479.2,2527.6L1482.7,2526.5M1518.8,2515.1L1524.6,2513.3M1524.8,2530.2L1524.5,2530.3M1490.3,2545.5L1479.5,2550.3"/>
<polygon class="l" style="fill:#fff" points="1525.2,2503 1550.2,2502.3 1551,2541.7 1526,2542.5"/>
<polygon class="l" style="fill:#fff" points="1551,2502.3 1602.2,2501.5 1603.3,2562.6 1551.8,2563.7"/>
<polygon class="l" style="fill:#fff" points="1562.4,2517 1594.6,2522.7 1590.8,2541.7 1558.6,2536"/>
<path class="t" d="M1551.2,2515.1L1562.4,2517M1594.6,2522.7L1602.6,2524.1M1603,2543.8L1590.8,2541.7M1558.6,2536L1551.4,2534.7"/>
<polygon class="l" style="fill:#fff" points="1602.2,2501.5 1645.8,2500.7 1647.7,2560.7 1603.3,2562.6"/>
<path class="t" d="M1602.7,2526.2L1613,2526.2M1636.9,2526.2L1646.6,2526.2M1602.9,2538.2L1613,2538.2M1636.9,2538.2L1647,2538.2"/>
<circle class="l" style="fill:#fff" cx="1625" cy="2532.2" r="13.3"/>
<!-- 12_bottom.txt -->
<path class="l" style="fill:url(#hb);fill-rule:evenodd" d="M1023,2845 A214,212 0 0 0 1237,3057 L1237.5,3042 A195.5,192 0 0 1 1042,2850 Z"/>
<path class="l" style="fill:url(#hc);fill-rule:evenodd" d="M1237,3057 A214,212 0 0 0 1451,2845 L1433,2850 A195.5,192 0 0 1 1237.5,3042 Z"/>
<polygon class="l" style="fill:url(#hc)" points="1002.4,2654.1 1192,2651.1 1203.4,2631.4 1207.2,2631.4 1208,2680.7 1004.3,2682.6"/>
<polygon class="l" style="fill:url(#hc)" points="1269.8,2680.7 1268.6,2654.1 1279.3,2652.2 1427.2,2650.3 1461.3,2639 1463.2,2686.4 1446.1,2690.2 1444.2,2673.1 1429.1,2673.1 1429.1,2681.4"/>
<polygon class="l" style="fill:#fff" points="1209.1,2618.1 1266,2618.1 1269.8,2680.7 1209.1,2680.7"/>
<path class="l" d="M1226.9,2618.1 L1228.1,2631.4 Q1236.8,2640.9 1247,2631.4 L1245.9,2618.1"/>
<polyline class="t" points="1250.8,2618.1 1252.7,2680.7"/>
<polyline class="l" points="1258.4,2618.1 1261.1,2680.7"/>
<polygon class="l" style="fill:#fff" points="1197.7,2682.6 1279.3,2680.7 1278.5,2694 1260.3,2695.1 1259.5,2703.4 1216.7,2704.2 1215.9,2695.9 1198.9,2695.9"/>
<polygon class="l" style="fill:url(#hb)" points="1004.3,2676.9 1040.3,2676.1 1043.4,2874.1 1051.7,2891.2 1030.8,2893.1 1023.3,2847.6 1024.4,2692.1 1006.2,2690.2"/>
<polygon class="l" style="fill:url(#hc)" points="1430.2,2673.9 1446.1,2690.2 1451.8,2847.6 1448,2891.2 1427.2,2891.2 1436.7,2866.5 1435.5,2750.8 1431,2682.6"/>
<polygon class="l" style="fill:url(#hb)" points="1044.1,2874.9 1193.9,2872.2 1195.1,2889.3 1051.7,2892.3"/>
<polygon class="l" style="fill:url(#hb)" points="1294.4,2872.2 1434.8,2868.4 1429.1,2890 1295.2,2890"/>
<polygon class="l" style="fill:url(#hb)" points="1193.9,2849.5 1209.1,2848.7 1210.2,2910.1 1195.1,2911.3"/>
<polygon class="l" style="fill:url(#hb)" points="1277.4,2849.5 1294.4,2848.7 1295.2,2910.1 1280,2911.3"/>
<polygon class="l" style="fill:#fff" points="1209.1,2817.2 1275.5,2815.3 1281.2,2919.6 1211.8,2920.4"/>
<polyline class="l" points="1248.9,2816.5 1252.7,2919.6"/>
<polyline class="t" points="1254.6,2816.5 1258.4,2919.6"/>
<polyline class="l" points="1264.1,2816.1 1268.6,2919.6"/>
<polyline class="t" points="1269.8,2815.7 1274.7,2919.6"/>
<polyline class="t" points="1231.9,2794.5 1233.8,2817.2"/>
<polyline class="h" points="1245.9,2796.4 1247,2817.2"/>
<polygon class="l" style="fill:#fff" points="1068.8,2779.3 1154.1,2777.4 1154.9,2798.3 1069.5,2800.2"/>
<path class="t" d="M1073.9,2779.2L1074.6,2800.1M1080.2,2779.1L1081,2799.9M1086.6,2778.9L1087.3,2799.8M1092.9,2778.8L1093.7,2799.6M1099.3,2778.6L1100,2799.5M1105.7,2778.5L1106.4,2799.3M1112,2778.3L1112.8,2799.2M1118.4,2778.2L1119.1,2799.1M1124.7,2778.1L1125.5,2798.9M1131.1,2777.9L1131.8,2798.8M1137.5,2777.8L1138.2,2798.6M1143.8,2777.6L1144.6,2798.5M1150.2,2777.5L1150.9,2798.3"/>
<polygon class="l" style="fill:#fff" points="1154.9,2777 1321,2774.7 1321.7,2791.4 1156,2793.7"/>
<path class="l" d="M1159.7,2777.7L1160.5,2792.9M1167.2,2777.6L1168,2792.8M1174.7,2777.5L1175.4,2792.8M1182.1,2777.4L1182.9,2792.7M1189.6,2777.3L1190.4,2792.6M1197.1,2777.2L1197.8,2792.6M1204.5,2777.1L1205.3,2792.5M1212,2777L1212.7,2792.4M1219.5,2776.9L1220.2,2792.4M1226.9,2776.8L1227.7,2792.3M1234.4,2776.7L1235.1,2792.2M1241.8,2776.6L1242.6,2792.2M1249.3,2776.5L1250.1,2792.1M1256.8,2776.4L1257.5,2792M1264.2,2776.3L1265,2791.9M1271.7,2776.2L1272.5,2791.9M1279.2,2776.1L1279.9,2791.8M1286.6,2776L1287.4,2791.7M1294.1,2775.9L1294.9,2791.7M1301.6,2775.8L1302.3,2791.6M1309,2775.7L1309.8,2791.5M1316.5,2775.6L1317.3,2791.5"/>
<polyline class="l" points="1154.9,2779.3 1321,2777"/>
<polygon class="l" style="fill:#fff" points="1321,2774.7 1408.2,2772.5 1409,2795.2 1321.7,2797.5"/>
<path class="t" d="M1325.8,2774.7L1326.5,2797.4M1332.3,2774.5L1333.1,2797.2M1338.8,2774.3L1339.6,2797.1M1345.4,2774.1L1346.1,2796.9M1351.9,2774L1352.7,2796.7M1358.4,2773.8L1359.2,2796.5M1365,2773.6L1365.7,2796.4M1371.5,2773.4L1372.3,2796.2M1378.1,2773.3L1378.8,2796M1384.6,2773.1L1385.3,2795.8M1391.1,2772.9L1391.9,2795.7M1397.7,2772.7L1398.4,2795.5M1404.2,2772.6L1404.9,2795.3"/>
<polygon class="l" style="fill:url(#hb)" points="1044.1,2750.8 1150.3,2749 1154.1,2756.5 1152.2,2766 1044.1,2767.9"/>
<polygon class="l" style="fill:url(#hb)" points="1044.1,2811.5 1154.1,2808.9 1157.9,2817.2 1150.3,2824.8 1044.9,2826.7"/>
<polygon class="l" style="fill:url(#hb)" points="1328.6,2749.7 1429.1,2748.2 1430.2,2762.2 1329.3,2764.1"/>
<polygon class="l" style="fill:url(#hb)" points="1330.5,2807.7 1431,2805.8 1431.7,2821 1331.6,2822.9"/>
<!-- 50_shaft150.txt -->
<polygon class="l" style="fill:#fff" points="1168.5,846 1212,846 1214,841 1220,838 1227.5,837.5 1233.5,844 1252,1656 1188,1656"/>
<polyline class="t" points="1211,845 1234,1656"/>
<polyline class="t" points="1218.8,840 1241,1656"/>
<polyline class="h" points="1226.8,839 1247.5,1656"/>
<ellipse class="l" style="fill:#fff" cx="1203.4" cy="1013.6" rx="8.3" ry="38" transform="rotate(1.5 1203.4 1013.6)"/>
<ellipse class="l" style="fill:#fff" cx="1219.4" cy="1613" rx="5" ry="19" transform="rotate(1.5 1219.4 1613)"/>
<!-- 51_shaft230.txt -->
<polygon class="l" style="fill:#fff" points="1198.5,2026 1255.5,2024 1270,2681 1209,2681"/>
<polyline class="t" points="1243,2030 1255.4,2681"/>
<polyline class="h" points="1252.5,2030 1262,2681"/>
<ellipse class="l" style="fill:#fff" cx="1233.5" cy="2055" rx="5.7" ry="21" transform="rotate(1.2 1233.5 2055)"/>
<path class="l" d="M1227,2585 Q1227,2573 1237,2573 Q1247,2573 1247,2585 L1248,2628 Q1248,2640 1238,2640 Q1228,2640 1228,2628 Z"/>
<!-- 55_rods.txt -->
<polygon class="l" style="fill:#fff" points="989.5,690.5 1001.6,690 1005,940 1010.6,1088 1003,1088 993.6,940"/>
<polygon class="l" style="fill:#fff" points="1398.7,685 1410,684.5 1419,940 1425.8,1078 1416.4,1078 1407,940"/>
<polygon class="l" style="fill:#fff" points="1103.5,2512 1112.2,2512 1118,2837 1106.7,2837"/>
<polygon class="l" style="fill:#fff" points="1358.3,2511.4 1367,2511.4 1372.2,2828.6 1362,2828.6"/>
<!-- 60_labels.txt -->
<path class="n" d="M959.7,507 L1000,500.7 M969.3,496.1 C961.1,495.8 957.8,487.7 962.4,481.9 C967.8,476.1 976.5,479.8 985,486.3 C990.5,490.1 994.7,493.4 998.9,495.2 C997.7,489.1 997.8,482.1 997.8,474.5 M958.1,462.4 C958.6,471 970,472.1 980.1,470.9 C992.2,469.6 998.1,465.4 997,459.6 C995.8,452.8 985.2,450.6 973.8,451.8 C962.9,453.1 957.8,456.1 958.1,462.4"/>
<path class="n" d="M981.5,519.5 C994.8,570.7 1032.7,627.6 1044.1,682.6"/>
<path class="n" d="M1133,527.3 L1172.5,520.6 M1142.3,515.2 C1134.3,514.8 1131,505.7 1135.5,499.3 C1140.7,492.8 1149.3,497 1157.7,504.3 C1163.1,508.7 1167.3,512.3 1171.4,514.4 C1170.2,507.5 1170.2,499.8 1170.2,491.3 M1130.1,473.6 L1157.2,486.9 L1155.1,463 M1142,471.4 L1169.8,469.2"/>
<path class="n" d="M1159.8,547.9 C1161.7,582 1169.3,620 1178.8,638.9"/>
<path class="n" d="M1316.9,541 L1360.3,534.5 M1327.3,529.7 C1318.5,529.5 1315,521.1 1319.9,515.2 C1325.7,509.1 1335.1,512.9 1344.2,519.6 C1350.1,523.5 1354.6,526.9 1359.1,528.8 C1357.9,522.4 1357.9,515.3 1358,507.5 M1319.4,504.1 C1313.8,498.7 1314.2,488 1322.8,486.8 C1330.6,485.7 1334.4,491.9 1335.2,497.6 C1335.2,489.7 1339.2,483.1 1347.1,483.4 C1356.7,484 1360,496.3 1353.4,503.7"/>
<path class="n" d="M1345.6,553.6 C1339.9,608.6 1332.4,665.5 1328.6,730"/>
<path class="n" d="M570.1,1041.8 L607.7,1035.2 M569.2,1026.1 L606.9,1019.4 M568.4,1010.3 L606,1003.6"/>
<path class="n" d="M595,1060.7 C602.6,1083.4 615.9,1102.4 634.8,1117.5"/>
<path class="n" d="M723.7,963 L761.4,957 M732.6,952.4 C725,952.1 722,944.2 726.2,938.7 C731.2,933 739.4,936.6 747.3,942.9 C752.5,946.7 756.4,949.8 760.3,951.6 C759.2,945.7 759.3,938.9 759.3,931.5 M731.4,927.9 C723.7,927.6 720.7,919.7 724.9,914.1 C730,908.5 738.1,912.1 746,918.4 C751.2,922.2 755.1,925.3 759,927.1 C758,921.1 758,914.4 758,907"/>
<polyline class="t" points="782.7,956.4 1006.5,1083.4"/>
<path class="n" d="M837.4,935.9 L877,929.3 M840.8,924.4 C835.7,918.6 835.9,907.3 843.9,906.1 C851,905 854.5,911.6 855.2,917.6 C855.2,909.3 858.8,902.3 866,902.7 C874.8,903.4 877.9,916.4 871.9,924.2 M845.4,896.6 C837.4,896.2 834.1,887.4 838.6,881.1 C843.8,874.8 852.4,878.9 860.8,886 C866.2,890.2 870.3,893.8 874.4,895.8 C873.3,889.1 873.3,881.6 873.2,873.3"/>
<path class="t" d="M885.1,950.7 L942,1001.9"/>
<path class="n" d="M1028.2,868.8 L1067.8,862.3 M1031.6,857.4 C1026.5,851.7 1026.7,840.5 1034.7,839.4 C1041.8,838.3 1045.3,844.8 1046,850.7 C1046,842.5 1049.6,835.6 1056.8,836 C1065.6,836.6 1068.7,849.5 1062.7,857.3 M1030.2,830.2 C1025.1,824.5 1025.3,813.4 1033.2,812.2 C1040.3,811.1 1043.9,817.6 1044.6,823.5 C1044.6,815.3 1048.2,808.4 1055.4,808.8 C1064.2,809.5 1067.3,822.3 1061.3,830.1"/>
<path class="n" d="M1050.1,891.9 L1080.5,1015.1"/>
<path class="n" d="M1547.6,918.4 L1587.1,911.8 M1550.9,906.9 C1545.9,901.1 1546.1,889.8 1554,888.7 C1561.1,887.5 1564.6,894.1 1565.3,900.1 C1565.3,891.8 1568.9,884.9 1576.1,885.2 C1584.9,885.9 1588,898.9 1582,906.8 M1555.5,879.1 C1547.5,878.8 1544.2,869.9 1548.7,863.6 C1553.9,857.3 1562.5,861.4 1570.9,868.5 C1576.3,872.7 1580.4,876.3 1584.5,878.3 C1583.4,871.6 1583.4,864.1 1583.4,855.8"/>
<polyline class="t" points="1539.1,926.4 1396.9,1045.8"/>
<path class="n" d="M1738,1009.4 L1777.5,1002.8 M1737.2,994.3 L1776.7,987.7 M1736.4,979.1 L1775.9,972.5"/>
<path class="n" d="M1755.3,1028.8 C1762.9,1049.6 1764,1072.4 1762.9,1095.1"/>
<path class="n" d="M1111.9,1151.6 L1147.3,1143.2 M1109.5,1116.6 L1111.4,1134 L1126.7,1135.3 C1122.8,1128.2 1123.1,1115 1132.4,1113.8 C1141.7,1112.5 1147.6,1126 1143.1,1136.5 M1107.6,1095.2 C1108.6,1106.1 1118.8,1107.4 1127.7,1105.8 C1138.4,1103.9 1143.4,1098.7 1142,1091.3 C1140.5,1082.7 1130.9,1080 1120.9,1081.8 C1111.3,1083.5 1107,1087.4 1107.6,1095.2"/>
<path class="n" d="M1148.4,1161.5 L1203.4,1201.3"/>
<path class="n" d="M1256,1148.9 L1293.3,1140.4 M1258.6,1135.5 C1253.5,1128.9 1253.1,1115.8 1260.6,1114.2 C1267.3,1112.8 1271,1120.4 1272,1127.3 C1271.5,1117.7 1274.6,1109.5 1281.5,1109.8 C1289.9,1110.4 1293.5,1125.4 1288.2,1134.6 M1251.8,1092.6 C1252.8,1103.5 1263.5,1104.7 1272.9,1103 C1284.2,1101.1 1289.4,1095.9 1288,1088.5 C1286.5,1079.9 1276.4,1077.3 1265.9,1079.1 C1255.7,1080.8 1251.1,1084.7 1251.8,1092.6"/>
<polyline class="n" points="1301.3,1087.6 1305.1,1125.5"/>
<path class="n" d="M631.6,1368 L667.1,1360.3 M630.2,1352.7 L665.7,1345 M638.2,1340.4 C631,1340.3 627.7,1331.4 631.4,1324.9 C635.9,1318.4 643.9,1322.3 651.7,1329.3 C656.8,1333.4 660.7,1336.9 664.5,1338.9 C663.2,1332.1 662.9,1324.5 662.5,1316"/>
<polyline class="t" points="671.9,1296.8 783.8,1200.9"/>
<path class="n" d="M701.8,1419.4 L737.3,1411.9 M709.8,1407.5 C702.5,1407.4 699.2,1398.8 703,1392.5 C707.5,1386.2 715.5,1389.9 723.3,1396.7 C728.3,1400.7 732.3,1404.1 736,1406 C734.7,1399.4 734.5,1392 734.1,1383.8 M698.1,1377.6 L733.6,1370"/>
<polyline class="t" points="742,1348.8 912.7,1191.4"/>
<path class="n" d="M784.1,1360.2 L823.4,1352.6 M787.2,1349.5 C781.9,1344.4 781.8,1334 789.7,1332.6 C796.8,1331.3 800.5,1337.2 801.4,1342.7 C801.1,1335.1 804.5,1328.6 811.7,1328.6 C820.5,1328.9 824,1340.7 818.2,1348.2 M780.7,1321.2 L820,1313.6"/>
<path class="n" d="M827.4,1337.4 C882.4,1331.7 939.3,1297.6 958.2,1286.2 C996.2,1267.2 1034.1,1255.9 1072,1252.1"/>
<path class="n" d="M857.3,1406.1 L894.7,1398.3 M855.1,1381.3 L881.3,1393.3 L878.5,1370.2 M866.3,1378.8 L892.7,1375.7 M853.8,1357.6 C854.6,1366.9 865.3,1367.9 874.7,1366.3 C886,1364.6 891.3,1359.9 890,1353.6 C888.6,1346.2 878.5,1344.1 868,1345.8 C857.8,1347.4 853.2,1350.8 853.8,1357.6"/>
<path class="n" d="M903.2,1362 C920.3,1352.6 977.2,1354.5 1036,1356.4"/>
<path class="n" d="M884.6,1573.1 C879.3,1567.4 879.5,1556.3 887.8,1555.1 C895.3,1554 898.9,1560.5 899.7,1566.4 C899.7,1558.2 903.5,1551.3 911,1551.6 C920.2,1552.3 923.4,1565.1 917.1,1572.9 M889.4,1545.6 C881,1545.3 877.6,1536.6 882.3,1530.4 C887.9,1524.1 896.8,1528.1 905.6,1535.1 C911.2,1539.3 915.6,1542.8 919.8,1544.8 C918.7,1538.2 918.7,1530.7 918.7,1522.5 M888,1518.5 C879.6,1518.2 876.2,1509.4 880.9,1503.2 C886.4,1497 895.4,1501 904.1,1508 C909.8,1512.1 914.1,1515.6 918.4,1517.6 C917.2,1511 917.3,1503.6 917.3,1495.4"/>
<polyline class="t" points="914.6,1582.4 988.6,1624.1 1163,1681"/>
<path class="n" d="M799,1634.6 C794,1629.2 794.2,1618.5 802.1,1617.4 C809.3,1616.3 812.8,1622.5 813.5,1628.2 C813.5,1620.3 817.1,1613.7 824.3,1614.1 C833.1,1614.7 836.1,1627 830.1,1634.4 M803.7,1608.3 C795.7,1608 792.4,1599.7 796.9,1593.7 C802.2,1587.7 810.7,1591.6 819.1,1598.3 C824.5,1602.2 828.6,1605.6 832.7,1607.5 C831.6,1601.2 831.6,1594 831.6,1586.2 M792.2,1579.3 L831.7,1572.9"/>
<path class="n" d="M838.8,1635.5 C863.4,1650.7 939.3,1654.5 1015.1,1669.6 C1072,1684.8 1128.9,1715.1 1163,1741.7 C1185.8,1764.5 1201,1794.8 1207,1821.3"/>
<path class="n" d="M667.4,1905.7 C661.7,1898.9 661.9,1885.6 670.7,1884.2 C678.6,1882.9 682.6,1890.7 683.4,1897.8 C683.3,1888 687.3,1879.8 695.3,1880.3 C705.1,1881.1 708.6,1896.4 702,1905.7 M661.6,1862 C662.2,1873 674.7,1874.6 685.7,1873.1 C698.9,1871.6 705.2,1866.3 704,1858.9 C702.6,1850 690.9,1847.1 678.6,1848.6 C666.7,1850.1 661.2,1854 661.6,1862 M659.9,1829.6 C660.5,1840.6 673,1842.2 684,1840.7 C697.2,1839.2 703.5,1833.9 702.3,1826.5 C700.9,1817.6 689.2,1814.7 676.9,1816.2 C665,1817.7 659.5,1821.6 659.9,1829.6"/>
<path class="n" d="M723.7,1859 C745,1856.8 758.2,1845.8 784.8,1843.5"/>
<polygon fill="#000" stroke="none" points="806,1842.7 773.7,1836 776.8,1848.8"/>
<path class="n" d="M852.6,2116.6 C847.7,2109 847.7,2094.3 855.1,2092.9 C861.8,2091.6 865.3,2100.3 866.1,2108.1 C865.9,2097.3 869.2,2088.3 876,2088.9 C884.3,2089.9 887.5,2106.9 882,2117 M846.7,2076.1 L884,2068.3 M845.7,2056.4 L882.9,2048.6"/>
<path class="n" d="M900.7,2055.9 C935.2,2060.4 1001.6,2042.7 1063.5,2022.7 L1104.7,2012.6"/>
<path class="n" d="M403,1739.2 C396.8,1729.1 398,1714 404.1,1714 C410.3,1715.2 415.9,1732.5 422,1745.4 C420.3,1732.5 420.3,1718 428.2,1718.5 C437.1,1720.2 444.9,1740.3 447.2,1756 C447.2,1762.7 442.7,1766.1 439.3,1761.6"/>
<path class="h" d="M444.9,1797.4 L450.8,1799.8"/>
<path class="n" d="M430.4,1822 L426.5,1805.2 C430.4,1803 439.3,1811.9 447.2,1818.6 C450.5,1829.8 450.5,1838.8 449.4,1843.2 C442.7,1846.6 434.9,1845.5 429.3,1838.8 C420.3,1827.6 411.4,1813 406.3,1806.3 L408.3,1796.3"/>
<path class="n" d="M409.1,1844.9 L418.1,1852.2 L447.2,1870.1"/>
<path class="n" d="M396.3,1856.7 L397.4,1869 L399.6,1884.6 L425.9,1902.5 L449.4,1924.9"/>
<path class="n" d="M420.9,1870.1 L418.7,1875.7 L420.3,1892.4"/>
<path class="n" d="M1385.4,1563.8 C1380.3,1557.9 1380.5,1546.3 1388.4,1545.1 C1395.6,1543.9 1399.1,1550.7 1399.8,1556.9 C1399.8,1548.4 1403.4,1541.2 1410.6,1541.6 C1419.4,1542.3 1422.5,1555.7 1416.5,1563.7 M1379.8,1531.9 L1419.3,1525.2 M1378.4,1506.4 L1405.5,1519.7 L1403.4,1495.8 M1390.3,1504.2 L1418.1,1502"/>
<path class="h" d="M1360.7,1545.8 L1334.1,1576.2"/>
<path class="n" d="M1560.9,1501.7 C1556,1496 1556.2,1484.8 1563.7,1483.7 C1570.5,1482.6 1573.9,1489.1 1574.6,1495 C1574.5,1486.8 1577.9,1480 1584.8,1480.3 C1593.2,1481 1596.1,1493.9 1590.5,1501.6 M1565.1,1474.2 C1557.5,1473.9 1554.4,1465.1 1558.6,1459 C1563.6,1452.7 1571.8,1456.8 1579.8,1463.8 C1584.9,1468 1588.9,1471.5 1592.8,1473.5 C1591.7,1466.9 1591.7,1459.5 1591.6,1451.3 M1558,1447.4 C1553.2,1441.7 1553.3,1430.5 1560.9,1429.4 C1567.6,1428.3 1571,1434.8 1571.7,1440.7 C1571.7,1432.5 1575.1,1425.7 1582,1426.1 C1590.3,1426.7 1593.3,1439.6 1587.6,1447.3"/>
<polyline class="t" points="1542.7,1500.3 1400.5,1729.8"/>
<path class="n" d="M1523.8,2008 C1519.1,2001.4 1519.1,1988.6 1526.3,1987.4 C1532.7,1986.2 1536,1993.7 1536.7,2000.5 C1536.6,1991.1 1539.8,1983.2 1546.3,1983.8 C1554.3,1984.6 1557.2,1999.4 1551.9,2008.3 M1518.3,1972.7 L1554,1965.7 M1526.6,1959.4 C1519.4,1958.9 1516.3,1948.8 1520.3,1941.8 C1525,1934.7 1532.8,1939.4 1540.4,1947.6 C1545.4,1952.4 1549.2,1956.5 1552.9,1958.9 C1551.8,1951.2 1551.7,1942.7 1551.6,1933.3"/>
<path class="n" d="M1524.8,2018.3 C1502,2033.4 1471.7,2041 1445.2,2042.9"/>
<path class="n" d="M1723.2,1979 L1751.4,1990.4 L1749.5,1969.5 M1735.6,1977 L1764.8,1974.8 M1733,1966 C1724.6,1965.7 1721.3,1957.8 1726,1952.2 C1731.5,1946.5 1740.5,1950 1749.2,1956.3 C1754.8,1960.1 1759.2,1963.2 1763.4,1965 C1762.3,1959 1762.3,1952.3 1762.4,1944.8 M1721.6,1933.1 C1722.1,1941.5 1733.8,1942.6 1744.2,1941.4 C1756.7,1940 1762.7,1936 1761.6,1930.3 C1760.4,1923.6 1749.4,1921.5 1737.8,1922.8 C1726.6,1924.1 1721.3,1927 1721.6,1933.1"/>
<path class="n" d="M1372.1,2227.1 C1367.2,2221 1367.4,2209.1 1374.9,2207.9 C1381.7,2206.7 1385.1,2213.7 1385.8,2220 C1385.7,2211.3 1389.1,2204 1396,2204.4 C1404.4,2205.2 1407.4,2218.9 1401.7,2227.1 M1366.6,2194.3 L1404.2,2187.6 M1369.7,2182.2 C1364.9,2176.1 1365,2164.2 1372.5,2163 C1379.3,2161.9 1382.7,2168.8 1383.4,2175.1 C1383.4,2166.4 1386.8,2159.1 1393.6,2159.5 C1402,2160.3 1405,2174 1399.4,2182.2"/>
<path class="n" d="M1374.1,2150 C1385.5,2123.4 1370.3,2085.5 1309.6,2051.4"/>
<path class="n" d="M1162.8,2530 C1155.6,2529.6 1152.5,2520 1156.5,2513.3 C1161.2,2506.5 1169,2511 1176.7,2518.7 C1181.6,2523.3 1185.4,2527.2 1189.1,2529.5 C1188,2522.2 1188,2514.1 1187.9,2505.1 M1155.9,2500.6 C1151.2,2494.4 1151.3,2482.2 1158.4,2481 C1164.9,2479.8 1168.1,2487 1168.8,2493.4 C1168.7,2484.5 1171.9,2477 1178.5,2477.5 C1186.4,2478.3 1189.3,2492.4 1184,2500.8 M1150.9,2460.6 C1151.4,2470.7 1161.6,2472.2 1170.5,2470.9 C1181.3,2469.5 1186.5,2464.8 1185.4,2458 C1184.2,2449.9 1174.7,2447.1 1164.7,2448.5 C1155,2449.8 1150.5,2453.3 1150.9,2460.6"/>
<path class="n" d="M1169.1,2430.8 C1182.4,2421.4 1208.9,2429 1227.9,2434.6"/>
<path class="n" d="M589.2,2417.8 C581.2,2417.4 577.9,2407.2 582.3,2400 C587.5,2392.8 596.1,2397.5 604.5,2405.8 C610,2410.7 614.2,2414.8 618.3,2417.1 C617.1,2409.4 617,2400.8 616.9,2391.3 M577.4,2382.4 L616.9,2375.1 M576.5,2365 L616,2357.8"/>
<path class="n" d="M618.4,2430.7 C627.9,2449.6 646.9,2464.8 665.8,2470.5"/>
<path class="n" d="M763.4,2824.2 C755,2823.9 751.6,2815.2 756.3,2809 C761.8,2802.7 770.8,2806.7 779.5,2813.7 C785.2,2817.9 789.5,2821.4 793.8,2823.4 C792.6,2816.7 792.7,2809.3 792.6,2801.1 M751.8,2787.9 C752.3,2797.2 764.1,2798.4 774.5,2797.2 C786.9,2795.8 793,2791.4 791.8,2785.1 C790.6,2777.7 779.6,2775.3 768,2776.7 C756.8,2778 751.5,2781.3 751.8,2787.9 M750.4,2760.8 C750.9,2770.1 762.7,2771.3 773.1,2770 C785.5,2768.6 791.5,2764.2 790.4,2757.9 C789.2,2750.6 778.2,2748.2 766.5,2749.5 C755.3,2750.9 750.1,2754.1 750.4,2760.8"/>
<path class="n" d="M805,2738.3 C825.8,2726.9 837.2,2685.2 841.8,2658.6"/>
<polygon fill="#000" stroke="none" points="844,2637.7 831.5,2664.3 844.8,2667"/>
<path class="n" d="M933.8,2782.4 C925.6,2782.1 922.3,2772.9 926.8,2766.5 C932.2,2759.9 941.1,2764.2 949.7,2771.5 C955.2,2775.9 959.5,2779.5 963.7,2781.6 C962.6,2774.7 962.6,2766.9 962.5,2758.4 M932.3,2754 C924.1,2753.7 920.8,2744.5 925.4,2738 C930.8,2731.5 939.6,2735.7 948.2,2743.1 C953.7,2747.5 958,2751.1 962.2,2753.2 C961.1,2746.3 961.1,2738.5 961,2729.9 M920.9,2716 C921.4,2725.7 933,2727.1 943.2,2725.8 C955.4,2724.3 961.3,2719.7 960.1,2713.2 C958.9,2705.5 948.1,2702.9 936.7,2704.3 C925.7,2705.7 920.6,2709 920.9,2716"/>
<path class="n" d="M977.5,2730.7 C1000.3,2745.8 1076.2,2719.3 1155.8,2734.5"/>
<path class="n" d="M1784.1,2618 C1776.5,2617.5 1773.3,2607.3 1777.5,2600.2 C1782.5,2593 1790.7,2597.7 1798.7,2606 C1803.9,2610.9 1807.9,2615 1811.8,2617.4 C1810.7,2609.7 1810.6,2601 1810.5,2591.5 M1772.8,2582.5 L1810.4,2575.4 M1771.9,2565.2 L1809.5,2558"/>
<path class="n" d="M1771,2492.4 C1778.6,2507.6 1786.1,2526.5 1789.9,2541.7"/>
<path class="n" d="M1531.8,1360.4 L1571.3,1353.5 M1541.1,1347.9 C1533.1,1347.5 1529.9,1338.2 1534.3,1331.6 C1539.5,1325 1548.1,1329.3 1556.5,1336.8 C1561.9,1341.3 1566.1,1345 1570.2,1347.2 C1569,1340.1 1569,1332.2 1569,1323.4 M1539.6,1318.9 C1531.6,1318.6 1528.3,1309.2 1532.8,1302.6 C1538,1296 1546.6,1300.3 1555,1307.8 C1560.4,1312.3 1564.6,1316 1568.7,1318.2 C1567.5,1311.1 1567.5,1303.2 1567.4,1294.5"/>
<polyline class="t" points="1531.4,1281.4 1434.6,1106.5"/>
<!--END-->
</svg>
</body></html>
